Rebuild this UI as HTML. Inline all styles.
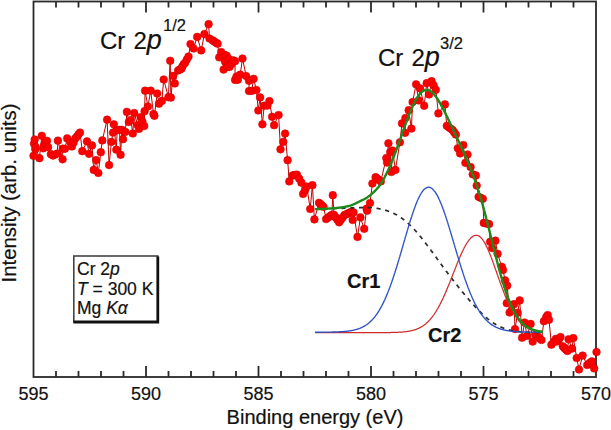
<!DOCTYPE html>
<html><head><meta charset="utf-8"><style>
html,body{margin:0;padding:0;background:#fff;width:611px;height:430px;overflow:hidden}
.c{position:relative;width:611px;height:430px;font-family:"Liberation Sans",sans-serif;color:#111}
.c svg{position:absolute;left:0;top:0}
.t{position:absolute;white-space:nowrap;line-height:1;-webkit-text-stroke:0.2px #111}
</style></head><body><div class="c">
<svg width="611" height="430" viewBox="0 0 611 430">
<path d="M56.00,1.5 V7.5 M56.00,377 V371 M78.50,1.5 V7.5 M78.50,377 V371 M101.00,1.5 V7.5 M101.00,377 V371 M123.50,1.5 V7.5 M123.50,377 V371 M146.00,1.5 V12.5 M146.00,377 V366 M168.50,1.5 V7.5 M168.50,377 V371 M191.00,1.5 V7.5 M191.00,377 V371 M213.50,1.5 V7.5 M213.50,377 V371 M236.00,1.5 V7.5 M236.00,377 V371 M258.50,1.5 V12.5 M258.50,377 V366 M281.00,1.5 V7.5 M281.00,377 V371 M303.50,1.5 V7.5 M303.50,377 V371 M326.00,1.5 V7.5 M326.00,377 V371 M348.50,1.5 V7.5 M348.50,377 V371 M371.00,1.5 V12.5 M371.00,377 V366 M393.50,1.5 V7.5 M393.50,377 V371 M416.00,1.5 V7.5 M416.00,377 V371 M438.50,1.5 V7.5 M438.50,377 V371 M461.00,1.5 V7.5 M461.00,377 V371 M483.50,1.5 V12.5 M483.50,377 V366 M506.00,1.5 V7.5 M506.00,377 V371 M528.50,1.5 V7.5 M528.50,377 V371 M551.00,1.5 V7.5 M551.00,377 V371 M573.50,1.5 V7.5 M573.50,377 V371" stroke="#2a2a2a" stroke-width="1.8" fill="none"/>
<rect x="33.5" y="1.5" width="562.5" height="375.5" fill="none" stroke="#2a2a2a" stroke-width="1.8"/>
<path d="M33.5,155.8 L34.0,143.6 L34.7,139.5 L35.3,149.2 L35.6,147.2 L39.4,158.2 L41.8,135.8 L43.3,148.3 L44.0,145.8 L45.1,143.0 L47.0,140.8 L48.1,147.1 L50.9,154.2 L53.0,155.6 L55.1,154.6 L57.3,153.5 L57.9,140.7 L62.6,159.3 L62.8,148.6 L64.9,148.8 L67.2,138.4 L70.4,142.3 L71.9,146.5 L73.6,142.4 L75.3,138.4 L76.9,136.5 L78.4,134.5 L80.0,132.6 L82.3,151.2 L87.0,141.4 L89.0,153.8 L92.0,145.4 L93.7,169.9 L96.2,160.1 L98.3,173.0 L100.8,152.2 L102.3,140.4 L107.1,119.7 L109.1,165.1 L111.4,141.9 L113.0,132.6 L113.8,124.3 L116.3,149.7 L117.2,130.2 L119.5,129.8 L120.6,154.8 L121.9,129.8 L123.0,139.2 L125.3,131.9 L126.9,111.9 L128.8,122.0 L130.9,120.0 L132.8,133.5 L134.2,113.0 L137.7,125.1 L139.0,128.9 L140.7,117.2 L142.4,121.6 L144.2,126.0 L144.6,111.2 L145.1,90.7 L147.9,106.5 L150.7,90.7 L153.5,114.0 L154.4,115.8 L157.2,93.5 L159.0,103.7 L161.9,100.9 L163.7,79.5 L168.4,97.2 L170.2,60.8 L170.9,97.6 L173.0,75.8 L174.8,83.4 L178.1,70.5 L179.7,69.6 L181.4,68.8 L182.3,66.5 L183.6,64.3 L185.1,62.8 L186.8,59.6 L188.5,56.5 L190.5,44.0 L193.6,48.5 L197.2,36.9 L201.2,50.4 L204.4,34.1 L208.6,24.2 L209.5,38.5 L212.7,40.4 L214.3,41.5 L215.9,42.6 L217.6,43.7 L219.2,57.3 L221.2,52.0 L223.6,69.6 L224.6,54.9 L224.9,61.3 L226.7,55.7 L227.4,66.7 L228.8,59.0 L229.5,66.9 L231.6,63.9 L233.2,60.3 L235.0,61.2 L235.1,79.9 L236.5,76.5 L237.8,79.8 L240.2,74.7 L242.5,58.5 L246.2,76.1 L249.0,80.8 L249.0,91.0 L251.7,90.9 L253.6,78.8 L256.4,90.0 L258.3,110.5 L260.1,97.4 L262.4,124.3 L264.2,105.7 L267.4,105.6 L269.4,101.1 L272.1,116.8 L274.1,125.2 L278.6,115.0 L280.5,149.3 L283.3,141.9 L285.1,133.5 L287.6,160.2 L289.3,181.4 L292.4,175.6 L293.9,175.2 L295.4,175.0 L296.9,174.7 L299.2,178.7 L301.4,182.7 L303.1,193.9 L305.0,190.2 L306.8,186.5 L310.2,209.0 L312.4,185.2 L314.4,219.4 L319.0,202.8 L320.5,204.1 L322.0,205.5 L323.5,206.8 L326.1,219.1 L328.0,217.6 L329.9,216.2 L331.8,214.8 L332.8,195.2 L334.0,214.9 L335.7,217.4 L337.4,219.8 L339.1,222.3 L340.8,219.9 L342.6,217.5 L344.4,215.1 L346.2,214.3 L347.9,213.5 L349.6,212.6 L351.4,211.8 L352.7,220.0 L353.5,212.4 L357.5,236.9 L360.4,217.4 L364.2,228.8 L366.6,208.7 L367.2,210.7 L370.0,203.0 L372.4,183.5 L375.6,177.2 L377.3,178.6 L379.1,180.0 L380.8,181.4 L386.3,158.0 L387.1,162.6 L388.4,143.3 L390.2,152.1 L391.3,172.0 L392.6,150.6 L395.4,169.9 L399.9,142.3 L402.0,123.4 L405.1,132.8 L405.4,118.0 L408.7,110.2 L411.4,128.6 L412.6,102.0 L416.1,84.3 L418.7,100.4 L420.1,88.4 L424.2,105.8 L426.7,83.2 L429.1,94.5 L431.6,81.2 L433.7,85.5 L435.8,89.8 L438.4,113.4 L444.9,104.4 L446.8,125.8 L448.7,127.2 L450.6,128.6 L452.6,130.0 L454.2,132.3 L455.9,134.6 L457.8,148.3 L460.1,153.4 L463.3,145.0 L465.4,162.8 L467.5,154.5 L470.6,167.0 L472.7,174.3 L475.8,175.4 L476.7,185.6 L478.6,196.8 L480.7,197.8 L482.8,198.8 L483.8,222.9 L485.6,223.3 L487.3,223.6 L489.1,224.0 L490.1,241.8 L492.2,248.1 L495.4,240.7 L497.6,253.8 L501.8,266.9 L503.0,269.9 L505.1,280.4 L506.8,303.2 L507.2,285.6 L509.6,312.5 L511.4,310.7 L514.0,304.2 L515.0,329.1 L517.7,312.8 L519.7,300.4 L522.1,337.7 L524.5,322.5 L527.2,335.9 L530.6,323.9 L532.7,341.6 L535.8,334.6 L537.7,336.4 L539.6,338.2 L541.5,340.0 L543.9,321.2 L546.3,316.9 L547.7,315.0 L549.0,319.8 L551.4,344.7 L553.6,341.8 L555.8,338.8 L557.0,341.6 L558.8,339.3 L560.5,337.0 L562.8,346.3 L564.3,347.9 L565.9,349.4 L567.4,351.0 L568.6,339.3 L572.0,348.6 L573.3,338.0 L576.7,358.0 L579.0,369.5 L582.6,355.6 L587.2,365.0 L588.8,363.8 L590.3,362.6 L591.9,361.4 L594.2,368.4 L596.5,352.0" fill="none" stroke="#c00000" stroke-width="1"/>
<g fill="#ff0000" stroke="#c80000" stroke-width="0.5"><circle cx="33.5" cy="155.8" r="3.85"/><circle cx="34.0" cy="143.6" r="3.85"/><circle cx="34.7" cy="139.5" r="3.85"/><circle cx="35.3" cy="149.2" r="3.85"/><circle cx="35.6" cy="147.2" r="3.85"/><circle cx="39.4" cy="158.2" r="3.85"/><circle cx="41.8" cy="135.8" r="3.85"/><circle cx="43.3" cy="148.3" r="3.85"/><circle cx="44.0" cy="145.8" r="3.85"/><circle cx="45.1" cy="143.0" r="3.85"/><circle cx="47.0" cy="140.8" r="3.85"/><circle cx="48.1" cy="147.1" r="3.85"/><circle cx="50.9" cy="154.2" r="3.85"/><circle cx="53.0" cy="155.6" r="3.85"/><circle cx="55.1" cy="154.6" r="3.85"/><circle cx="57.3" cy="153.5" r="3.85"/><circle cx="57.9" cy="140.7" r="3.85"/><circle cx="62.6" cy="159.3" r="3.85"/><circle cx="62.8" cy="148.6" r="3.85"/><circle cx="64.9" cy="148.8" r="3.85"/><circle cx="67.2" cy="138.4" r="3.85"/><circle cx="70.4" cy="142.3" r="3.85"/><circle cx="71.9" cy="146.5" r="3.85"/><circle cx="73.6" cy="142.4" r="3.85"/><circle cx="75.3" cy="138.4" r="3.85"/><circle cx="76.9" cy="136.5" r="3.85"/><circle cx="78.4" cy="134.5" r="3.85"/><circle cx="80.0" cy="132.6" r="3.85"/><circle cx="82.3" cy="151.2" r="3.85"/><circle cx="87.0" cy="141.4" r="3.85"/><circle cx="89.0" cy="153.8" r="3.85"/><circle cx="92.0" cy="145.4" r="3.85"/><circle cx="93.7" cy="169.9" r="3.85"/><circle cx="96.2" cy="160.1" r="3.85"/><circle cx="98.3" cy="173.0" r="3.85"/><circle cx="100.8" cy="152.2" r="3.85"/><circle cx="102.3" cy="140.4" r="3.85"/><circle cx="107.1" cy="119.7" r="3.85"/><circle cx="109.1" cy="165.1" r="3.85"/><circle cx="111.4" cy="141.9" r="3.85"/><circle cx="113.0" cy="132.6" r="3.85"/><circle cx="113.8" cy="124.3" r="3.85"/><circle cx="116.3" cy="149.7" r="3.85"/><circle cx="117.2" cy="130.2" r="3.85"/><circle cx="119.5" cy="129.8" r="3.85"/><circle cx="120.6" cy="154.8" r="3.85"/><circle cx="121.9" cy="129.8" r="3.85"/><circle cx="123.0" cy="139.2" r="3.85"/><circle cx="125.3" cy="131.9" r="3.85"/><circle cx="126.9" cy="111.9" r="3.85"/><circle cx="128.8" cy="122.0" r="3.85"/><circle cx="130.9" cy="120.0" r="3.85"/><circle cx="132.8" cy="133.5" r="3.85"/><circle cx="134.2" cy="113.0" r="3.85"/><circle cx="137.7" cy="125.1" r="3.85"/><circle cx="139.0" cy="128.9" r="3.85"/><circle cx="140.7" cy="117.2" r="3.85"/><circle cx="142.4" cy="121.6" r="3.85"/><circle cx="144.2" cy="126.0" r="3.85"/><circle cx="144.6" cy="111.2" r="3.85"/><circle cx="145.1" cy="90.7" r="3.85"/><circle cx="147.9" cy="106.5" r="3.85"/><circle cx="150.7" cy="90.7" r="3.85"/><circle cx="153.5" cy="114.0" r="3.85"/><circle cx="154.4" cy="115.8" r="3.85"/><circle cx="157.2" cy="93.5" r="3.85"/><circle cx="159.0" cy="103.7" r="3.85"/><circle cx="161.9" cy="100.9" r="3.85"/><circle cx="163.7" cy="79.5" r="3.85"/><circle cx="168.4" cy="97.2" r="3.85"/><circle cx="170.2" cy="60.8" r="3.85"/><circle cx="170.9" cy="97.6" r="3.85"/><circle cx="173.0" cy="75.8" r="3.85"/><circle cx="174.8" cy="83.4" r="3.85"/><circle cx="178.1" cy="70.5" r="3.85"/><circle cx="179.7" cy="69.6" r="3.85"/><circle cx="181.4" cy="68.8" r="3.85"/><circle cx="182.3" cy="66.5" r="3.85"/><circle cx="183.6" cy="64.3" r="3.85"/><circle cx="185.1" cy="62.8" r="3.85"/><circle cx="186.8" cy="59.6" r="3.85"/><circle cx="188.5" cy="56.5" r="3.85"/><circle cx="190.5" cy="44.0" r="3.85"/><circle cx="193.6" cy="48.5" r="3.85"/><circle cx="197.2" cy="36.9" r="3.85"/><circle cx="201.2" cy="50.4" r="3.85"/><circle cx="204.4" cy="34.1" r="3.85"/><circle cx="208.6" cy="24.2" r="3.85"/><circle cx="209.5" cy="38.5" r="3.85"/><circle cx="212.7" cy="40.4" r="3.85"/><circle cx="214.3" cy="41.5" r="3.85"/><circle cx="215.9" cy="42.6" r="3.85"/><circle cx="217.6" cy="43.7" r="3.85"/><circle cx="219.2" cy="57.3" r="3.85"/><circle cx="221.2" cy="52.0" r="3.85"/><circle cx="223.6" cy="69.6" r="3.85"/><circle cx="224.6" cy="54.9" r="3.85"/><circle cx="224.9" cy="61.3" r="3.85"/><circle cx="226.7" cy="55.7" r="3.85"/><circle cx="227.4" cy="66.7" r="3.85"/><circle cx="228.8" cy="59.0" r="3.85"/><circle cx="229.5" cy="66.9" r="3.85"/><circle cx="231.6" cy="63.9" r="3.85"/><circle cx="233.2" cy="60.3" r="3.85"/><circle cx="235.0" cy="61.2" r="3.85"/><circle cx="235.1" cy="79.9" r="3.85"/><circle cx="236.5" cy="76.5" r="3.85"/><circle cx="237.8" cy="79.8" r="3.85"/><circle cx="240.2" cy="74.7" r="3.85"/><circle cx="242.5" cy="58.5" r="3.85"/><circle cx="246.2" cy="76.1" r="3.85"/><circle cx="249.0" cy="80.8" r="3.85"/><circle cx="249.0" cy="91.0" r="3.85"/><circle cx="251.7" cy="90.9" r="3.85"/><circle cx="253.6" cy="78.8" r="3.85"/><circle cx="256.4" cy="90.0" r="3.85"/><circle cx="258.3" cy="110.5" r="3.85"/><circle cx="260.1" cy="97.4" r="3.85"/><circle cx="262.4" cy="124.3" r="3.85"/><circle cx="264.2" cy="105.7" r="3.85"/><circle cx="267.4" cy="105.6" r="3.85"/><circle cx="269.4" cy="101.1" r="3.85"/><circle cx="272.1" cy="116.8" r="3.85"/><circle cx="274.1" cy="125.2" r="3.85"/><circle cx="278.6" cy="115.0" r="3.85"/><circle cx="280.5" cy="149.3" r="3.85"/><circle cx="283.3" cy="141.9" r="3.85"/><circle cx="285.1" cy="133.5" r="3.85"/><circle cx="287.6" cy="160.2" r="3.85"/><circle cx="289.3" cy="181.4" r="3.85"/><circle cx="292.4" cy="175.6" r="3.85"/><circle cx="293.9" cy="175.2" r="3.85"/><circle cx="295.4" cy="175.0" r="3.85"/><circle cx="296.9" cy="174.7" r="3.85"/><circle cx="299.2" cy="178.7" r="3.85"/><circle cx="301.4" cy="182.7" r="3.85"/><circle cx="303.1" cy="193.9" r="3.85"/><circle cx="305.0" cy="190.2" r="3.85"/><circle cx="306.8" cy="186.5" r="3.85"/><circle cx="310.2" cy="209.0" r="3.85"/><circle cx="312.4" cy="185.2" r="3.85"/><circle cx="314.4" cy="219.4" r="3.85"/><circle cx="319.0" cy="202.8" r="3.85"/><circle cx="320.5" cy="204.1" r="3.85"/><circle cx="322.0" cy="205.5" r="3.85"/><circle cx="323.5" cy="206.8" r="3.85"/><circle cx="326.1" cy="219.1" r="3.85"/><circle cx="328.0" cy="217.6" r="3.85"/><circle cx="329.9" cy="216.2" r="3.85"/><circle cx="331.8" cy="214.8" r="3.85"/><circle cx="332.8" cy="195.2" r="3.85"/><circle cx="334.0" cy="214.9" r="3.85"/><circle cx="335.7" cy="217.4" r="3.85"/><circle cx="337.4" cy="219.8" r="3.85"/><circle cx="339.1" cy="222.3" r="3.85"/><circle cx="340.8" cy="219.9" r="3.85"/><circle cx="342.6" cy="217.5" r="3.85"/><circle cx="344.4" cy="215.1" r="3.85"/><circle cx="346.2" cy="214.3" r="3.85"/><circle cx="347.9" cy="213.5" r="3.85"/><circle cx="349.6" cy="212.6" r="3.85"/><circle cx="351.4" cy="211.8" r="3.85"/><circle cx="352.7" cy="220.0" r="3.85"/><circle cx="353.5" cy="212.4" r="3.85"/><circle cx="357.5" cy="236.9" r="3.85"/><circle cx="360.4" cy="217.4" r="3.85"/><circle cx="364.2" cy="228.8" r="3.85"/><circle cx="366.6" cy="208.7" r="3.85"/><circle cx="367.2" cy="210.7" r="3.85"/><circle cx="370.0" cy="203.0" r="3.85"/><circle cx="372.4" cy="183.5" r="3.85"/><circle cx="375.6" cy="177.2" r="3.85"/><circle cx="377.3" cy="178.6" r="3.85"/><circle cx="379.1" cy="180.0" r="3.85"/><circle cx="380.8" cy="181.4" r="3.85"/><circle cx="386.3" cy="158.0" r="3.85"/><circle cx="387.1" cy="162.6" r="3.85"/><circle cx="388.4" cy="143.3" r="3.85"/><circle cx="390.2" cy="152.1" r="3.85"/><circle cx="391.3" cy="172.0" r="3.85"/><circle cx="392.6" cy="150.6" r="3.85"/><circle cx="395.4" cy="169.9" r="3.85"/><circle cx="399.9" cy="142.3" r="3.85"/><circle cx="402.0" cy="123.4" r="3.85"/><circle cx="405.1" cy="132.8" r="3.85"/><circle cx="405.4" cy="118.0" r="3.85"/><circle cx="408.7" cy="110.2" r="3.85"/><circle cx="411.4" cy="128.6" r="3.85"/><circle cx="412.6" cy="102.0" r="3.85"/><circle cx="416.1" cy="84.3" r="3.85"/><circle cx="418.7" cy="100.4" r="3.85"/><circle cx="420.1" cy="88.4" r="3.85"/><circle cx="424.2" cy="105.8" r="3.85"/><circle cx="426.7" cy="83.2" r="3.85"/><circle cx="429.1" cy="94.5" r="3.85"/><circle cx="431.6" cy="81.2" r="3.85"/><circle cx="433.7" cy="85.5" r="3.85"/><circle cx="435.8" cy="89.8" r="3.85"/><circle cx="438.4" cy="113.4" r="3.85"/><circle cx="444.9" cy="104.4" r="3.85"/><circle cx="446.8" cy="125.8" r="3.85"/><circle cx="448.7" cy="127.2" r="3.85"/><circle cx="450.6" cy="128.6" r="3.85"/><circle cx="452.6" cy="130.0" r="3.85"/><circle cx="454.2" cy="132.3" r="3.85"/><circle cx="455.9" cy="134.6" r="3.85"/><circle cx="457.8" cy="148.3" r="3.85"/><circle cx="460.1" cy="153.4" r="3.85"/><circle cx="463.3" cy="145.0" r="3.85"/><circle cx="465.4" cy="162.8" r="3.85"/><circle cx="467.5" cy="154.5" r="3.85"/><circle cx="470.6" cy="167.0" r="3.85"/><circle cx="472.7" cy="174.3" r="3.85"/><circle cx="475.8" cy="175.4" r="3.85"/><circle cx="476.7" cy="185.6" r="3.85"/><circle cx="478.6" cy="196.8" r="3.85"/><circle cx="480.7" cy="197.8" r="3.85"/><circle cx="482.8" cy="198.8" r="3.85"/><circle cx="483.8" cy="222.9" r="3.85"/><circle cx="485.6" cy="223.3" r="3.85"/><circle cx="487.3" cy="223.6" r="3.85"/><circle cx="489.1" cy="224.0" r="3.85"/><circle cx="490.1" cy="241.8" r="3.85"/><circle cx="492.2" cy="248.1" r="3.85"/><circle cx="495.4" cy="240.7" r="3.85"/><circle cx="497.6" cy="253.8" r="3.85"/><circle cx="501.8" cy="266.9" r="3.85"/><circle cx="503.0" cy="269.9" r="3.85"/><circle cx="505.1" cy="280.4" r="3.85"/><circle cx="506.8" cy="303.2" r="3.85"/><circle cx="507.2" cy="285.6" r="3.85"/><circle cx="509.6" cy="312.5" r="3.85"/><circle cx="511.4" cy="310.7" r="3.85"/><circle cx="514.0" cy="304.2" r="3.85"/><circle cx="515.0" cy="329.1" r="3.85"/><circle cx="517.7" cy="312.8" r="3.85"/><circle cx="519.7" cy="300.4" r="3.85"/><circle cx="522.1" cy="337.7" r="3.85"/><circle cx="524.5" cy="322.5" r="3.85"/><circle cx="527.2" cy="335.9" r="3.85"/><circle cx="530.6" cy="323.9" r="3.85"/><circle cx="532.7" cy="341.6" r="3.85"/><circle cx="535.8" cy="334.6" r="3.85"/><circle cx="537.7" cy="336.4" r="3.85"/><circle cx="539.6" cy="338.2" r="3.85"/><circle cx="541.5" cy="340.0" r="3.85"/><circle cx="543.9" cy="321.2" r="3.85"/><circle cx="546.3" cy="316.9" r="3.85"/><circle cx="547.7" cy="315.0" r="3.85"/><circle cx="549.0" cy="319.8" r="3.85"/><circle cx="551.4" cy="344.7" r="3.85"/><circle cx="553.6" cy="341.8" r="3.85"/><circle cx="555.8" cy="338.8" r="3.85"/><circle cx="557.0" cy="341.6" r="3.85"/><circle cx="558.8" cy="339.3" r="3.85"/><circle cx="560.5" cy="337.0" r="3.85"/><circle cx="562.8" cy="346.3" r="3.85"/><circle cx="564.3" cy="347.9" r="3.85"/><circle cx="565.9" cy="349.4" r="3.85"/><circle cx="567.4" cy="351.0" r="3.85"/><circle cx="568.6" cy="339.3" r="3.85"/><circle cx="572.0" cy="348.6" r="3.85"/><circle cx="573.3" cy="338.0" r="3.85"/><circle cx="576.7" cy="358.0" r="3.85"/><circle cx="579.0" cy="369.5" r="3.85"/><circle cx="582.6" cy="355.6" r="3.85"/><circle cx="587.2" cy="365.0" r="3.85"/><circle cx="588.8" cy="363.8" r="3.85"/><circle cx="590.3" cy="362.6" r="3.85"/><circle cx="591.9" cy="361.4" r="3.85"/><circle cx="594.2" cy="368.4" r="3.85"/><circle cx="596.5" cy="352.0" r="3.85"/></g>
<path d="M315.0,209.06 L315.2,209.05 L315.5,209.05 L315.8,209.04 L316.0,209.04 L316.2,209.03 L316.5,209.03 L316.8,209.02 L317.0,209.02 L317.2,209.01 L317.5,209.01 L317.8,209.00 L318.0,208.99 L318.2,208.99 L318.5,208.98 L318.8,208.98 L319.0,208.97 L319.2,208.96 L319.5,208.96 L319.8,208.95 L320.0,208.95 L320.2,208.94 L320.5,208.93 L320.8,208.93 L321.0,208.92 L321.2,208.92 L321.5,208.91 L321.8,208.90 L322.0,208.90 L322.2,208.89 L322.5,208.88 L322.8,208.88 L323.0,208.87 L323.2,208.86 L323.5,208.86 L323.8,208.85 L324.0,208.84 L324.2,208.84 L324.5,208.83 L324.8,208.82 L325.0,208.82 L325.2,208.81 L325.5,208.80 L325.8,208.80 L326.0,208.79 L326.2,208.78 L326.5,208.78 L326.8,208.77 L327.0,208.76 L327.2,208.76 L327.5,208.75 L327.8,208.74 L328.0,208.73 L328.2,208.73 L328.5,208.72 L328.8,208.71 L329.0,208.71 L329.2,208.70 L329.5,208.69 L329.8,208.68 L330.0,208.68 L330.2,208.67 L330.5,208.66 L330.8,208.65 L331.0,208.65 L331.2,208.64 L331.5,208.63 L331.8,208.62 L332.0,208.62 L332.2,208.61 L332.5,208.60 L332.8,208.59 L333.0,208.59 L333.2,208.58 L333.5,208.57 L333.8,208.56 L334.0,208.56 L334.2,208.55 L334.5,208.54 L334.8,208.53 L335.0,208.52 L335.2,208.52 L335.5,208.51 L335.8,208.50 L336.0,208.49 L336.2,208.49 L336.5,208.48 L336.8,208.47 L337.0,208.46 L337.2,208.45 L337.5,208.45 L337.8,208.44 L338.0,208.43 L338.2,208.42 L338.5,208.41 L338.8,208.41 L339.0,208.40 L339.2,208.39 L339.5,208.38 L339.8,208.37 L340.0,208.37 L340.2,208.36 L340.5,208.35 L340.8,208.34 L341.0,208.33 L341.2,208.33 L341.5,208.32 L341.8,208.31 L342.0,208.30 L342.2,208.30 L342.5,208.29 L342.8,208.28 L343.0,208.27 L343.2,208.26 L343.5,208.26 L343.8,208.25 L344.0,208.24 L344.2,208.23 L344.5,208.23 L344.8,208.22 L345.0,208.21 L345.2,208.20 L345.5,208.19 L345.8,208.19 L346.0,208.18 L346.2,208.17 L346.5,208.16 L346.8,208.15 L347.0,208.14 L347.2,208.13 L347.5,208.12 L347.8,208.11 L348.0,208.10 L348.2,208.09 L348.5,208.08 L348.8,208.07 L349.0,208.06 L349.2,208.05 L349.5,208.04 L349.8,208.03 L350.0,208.01 L350.2,208.00 L350.5,207.99 L350.8,207.98 L351.0,207.97 L351.2,207.96 L351.5,207.94 L351.8,207.93 L352.0,207.92 L352.2,207.91 L352.5,207.90 L352.8,207.88 L353.0,207.87 L353.2,207.86 L353.5,207.85 L353.8,207.84 L354.0,207.83 L354.2,207.81 L354.5,207.80 L354.8,207.79 L355.0,207.78 L355.2,207.77 L355.5,207.76 L355.8,207.74 L356.0,207.73 L356.2,207.72 L356.5,207.71 L356.8,207.70 L357.0,207.69 L357.2,207.68 L357.5,207.67 L357.8,207.66 L358.0,207.65 L358.2,207.64 L358.5,207.63 L358.8,207.62 L359.0,207.61 L359.2,207.60 L359.5,207.59 L359.8,207.58 L360.0,207.58 L360.2,207.57 L360.5,207.56 L360.8,207.55 L361.0,207.55 L361.2,207.54 L361.5,207.53 L361.8,207.53 L362.0,207.52 L362.2,207.52 L362.5,207.51 L362.8,207.51 L363.0,207.50 L363.2,207.50 L363.5,207.50 L363.8,207.50 L364.0,207.49 L364.2,207.49 L364.5,207.49 L364.8,207.49 L365.0,207.49 L365.2,207.49 L365.5,207.49 L365.8,207.49 L366.0,207.49 L366.2,207.50 L366.5,207.50 L366.8,207.50 L367.0,207.51 L367.2,207.51 L367.5,207.52 L367.8,207.53 L368.0,207.53 L368.2,207.54 L368.5,207.55 L368.8,207.56 L369.0,207.57 L369.2,207.58 L369.5,207.59 L369.8,207.60 L370.0,207.62 L370.2,207.63 L370.5,207.65 L370.8,207.66 L371.0,207.68 L371.2,207.70 L371.5,207.71 L371.8,207.73 L372.0,207.75 L372.2,207.78 L372.5,207.80 L372.8,207.82 L373.0,207.84 L373.2,207.87 L373.5,207.90 L373.8,207.92 L374.0,207.95 L374.2,207.98 L374.5,208.01 L374.8,208.04 L375.0,208.07 L375.2,208.11 L375.5,208.14 L375.8,208.18 L376.0,208.22 L376.2,208.25 L376.5,208.29 L376.8,208.33 L377.0,208.37 L377.2,208.41 L377.5,208.45 L377.8,208.49 L378.0,208.54 L378.2,208.58 L378.5,208.62 L378.8,208.67 L379.0,208.71 L379.2,208.76 L379.5,208.81 L379.8,208.86 L380.0,208.91 L380.2,208.96 L380.5,209.01 L380.8,209.06 L381.0,209.11 L381.2,209.17 L381.5,209.22 L381.8,209.28 L382.0,209.34 L382.2,209.40 L382.5,209.46 L382.8,209.52 L383.0,209.58 L383.2,209.64 L383.5,209.70 L383.8,209.77 L384.0,209.83 L384.2,209.90 L384.5,209.97 L384.8,210.04 L385.0,210.11 L385.2,210.18 L385.5,210.25 L385.8,210.33 L386.0,210.40 L386.2,210.48 L386.5,210.56 L386.8,210.64 L387.0,210.72 L387.2,210.80 L387.5,210.88 L387.8,210.97 L388.0,211.05 L388.2,211.14 L388.5,211.23 L388.8,211.32 L389.0,211.41 L389.2,211.50 L389.5,211.59 L389.8,211.69 L390.0,211.79 L390.2,211.89 L390.5,211.98 L390.8,212.09 L391.0,212.19 L391.2,212.29 L391.5,212.40 L391.8,212.51 L392.0,212.61 L392.2,212.72 L392.5,212.84 L392.8,212.95 L393.0,213.07 L393.2,213.18 L393.5,213.30 L393.8,213.42 L394.0,213.54 L394.2,213.66 L394.5,213.79 L394.8,213.92 L395.0,214.04 L395.2,214.17 L395.5,214.31 L395.8,214.44 L396.0,214.57 L396.2,214.71 L396.5,214.85 L396.8,214.99 L397.0,215.13 L397.2,215.28 L397.5,215.42 L397.8,215.57 L398.0,215.72 L398.2,215.87 L398.5,216.02 L398.8,216.18 L399.0,216.33 L399.2,216.49 L399.5,216.65 L399.8,216.81 L400.0,216.98 L400.2,217.14 L400.5,217.31 L400.8,217.48 L401.0,217.65 L401.2,217.82 L401.5,218.00 L401.8,218.17 L402.0,218.35 L402.2,218.53 L402.5,218.71 L402.8,218.90 L403.0,219.09 L403.2,219.27 L403.5,219.46 L403.8,219.66 L404.0,219.85 L404.2,220.05 L404.5,220.24 L404.8,220.44 L405.0,220.64 L405.2,220.85 L405.5,221.05 L405.8,221.26 L406.0,221.47 L406.2,221.68 L406.5,221.89 L406.8,222.11 L407.0,222.32 L407.2,222.54 L407.5,222.76 L407.8,222.99 L408.0,223.21 L408.2,223.44 L408.5,223.67 L408.8,223.90 L409.0,224.13 L409.2,224.36 L409.5,224.60 L409.8,224.83 L410.0,225.07 L410.2,225.31 L410.5,225.56 L410.8,225.80 L411.0,226.05 L411.2,226.30 L411.5,226.55 L411.8,226.80 L412.0,227.05 L412.2,227.31 L412.5,227.57 L412.8,227.82 L413.0,228.09 L413.2,228.35 L413.5,228.61 L413.8,228.88 L414.0,229.15 L414.2,229.41 L414.5,229.69 L414.8,229.96 L415.0,230.23 L415.2,230.51 L415.5,230.79 L415.8,231.06 L416.0,231.35 L416.2,231.63 L416.5,231.91 L416.8,232.20 L417.0,232.48 L417.2,232.77 L417.5,233.06 L417.8,233.35 L418.0,233.64 L418.2,233.94 L418.5,234.23 L418.8,234.53 L419.0,234.83 L419.2,235.13 L419.5,235.43 L419.8,235.73 L420.0,236.04 L420.2,236.34 L420.5,236.65 L420.8,236.95 L421.0,237.26 L421.2,237.57 L421.5,237.88 L421.8,238.20 L422.0,238.51 L422.2,238.82 L422.5,239.14 L422.8,239.46 L423.0,239.77 L423.2,240.09 L423.5,240.41 L423.8,240.73 L424.0,241.05 L424.2,241.38 L424.5,241.70 L424.8,242.03 L425.0,242.35 L425.2,242.68 L425.5,243.00 L425.8,243.33 L426.0,243.66 L426.2,243.99 L426.5,244.32 L426.8,244.65 L427.0,244.98 L427.2,245.32 L427.5,245.65 L427.8,245.98 L428.0,246.32 L428.2,246.65 L428.5,246.99 L428.8,247.32 L429.0,247.66 L429.2,248.00 L429.5,248.34 L429.8,248.67 L430.0,249.01 L430.2,249.35 L430.5,249.69 L430.8,250.03 L431.0,250.37 L431.2,250.71 L431.5,251.05 L431.8,251.39 L432.0,251.73 L432.2,252.08 L432.5,252.42 L432.8,252.76 L433.0,253.10 L433.2,253.45 L433.5,253.79 L433.8,254.13 L434.0,254.48 L434.2,254.82 L434.5,255.16 L434.8,255.51 L435.0,255.85 L435.2,256.19 L435.5,256.54 L435.8,256.88 L436.0,257.22 L436.2,257.57 L436.5,257.91 L436.8,258.26 L437.0,258.60 L437.2,258.94 L437.5,259.29 L437.8,259.63 L438.0,259.98 L438.2,260.32 L438.5,260.66 L438.8,261.01 L439.0,261.35 L439.2,261.69 L439.5,262.03 L439.8,262.38 L440.0,262.72 L440.2,263.06 L440.5,263.40 L440.8,263.75 L441.0,264.09 L441.2,264.43 L441.5,264.77 L441.8,265.11 L442.0,265.45 L442.2,265.79 L442.5,266.13 L442.8,266.47 L443.0,266.81 L443.2,267.15 L443.5,267.49 L443.8,267.83 L444.0,268.17 L444.2,268.50 L444.5,268.84 L444.8,269.18 L445.0,269.52 L445.2,269.85 L445.5,270.19 L445.8,270.52 L446.0,270.86 L446.2,271.19 L446.5,271.53 L446.8,271.86 L447.0,272.20 L447.2,272.53 L447.5,272.86 L447.8,273.20 L448.0,273.53 L448.2,273.86 L448.5,274.19 L448.8,274.52 L449.0,274.85 L449.2,275.18 L449.5,275.51 L449.8,275.84 L450.0,276.17 L450.2,276.50 L450.5,276.83 L450.8,277.16 L451.0,277.48 L451.2,277.81 L451.5,278.14 L451.8,278.46 L452.0,278.79 L452.2,279.11 L452.5,279.44 L452.8,279.76 L453.0,280.08 L453.2,280.41 L453.5,280.73 L453.8,281.05 L454.0,281.37 L454.2,281.69 L454.5,282.02 L454.8,282.34 L455.0,282.66 L455.2,282.98 L455.5,283.29 L455.8,283.61 L456.0,283.93 L456.2,284.25 L456.5,284.57 L456.8,284.88 L457.0,285.20 L457.2,285.52 L457.5,285.83 L457.8,286.15 L458.0,286.46 L458.2,286.77 L458.5,287.09 L458.8,287.40 L459.0,287.71 L459.2,288.03 L459.5,288.34 L459.8,288.65 L460.0,288.96 L460.2,289.27 L460.5,289.58 L460.8,289.89 L461.0,290.20 L461.2,290.50 L461.5,290.81 L461.8,291.12 L462.0,291.43 L462.2,291.73 L462.5,292.04 L462.8,292.34 L463.0,292.65 L463.2,292.95 L463.5,293.25 L463.8,293.56 L464.0,293.86 L464.2,294.16 L464.5,294.46 L464.8,294.76 L465.0,295.06 L465.2,295.36 L465.5,295.66 L465.8,295.96 L466.0,296.26 L466.2,296.56 L466.5,296.85 L466.8,297.15 L467.0,297.45 L467.2,297.74 L467.5,298.03 L467.8,298.33 L468.0,298.62 L468.2,298.91 L468.5,299.21 L468.8,299.50 L469.0,299.79 L469.2,300.08 L469.5,300.37 L469.8,300.65 L470.0,300.94 L470.2,301.23 L470.5,301.52 L470.8,301.80 L471.0,302.09 L471.2,302.37 L471.5,302.65 L471.8,302.94 L472.0,303.22 L472.2,303.50 L472.5,303.78 L472.8,304.06 L473.0,304.34 L473.2,304.61 L473.5,304.89 L473.8,305.17 L474.0,305.44 L474.2,305.72 L474.5,305.99 L474.8,306.26 L475.0,306.53 L475.2,306.80 L475.5,307.07 L475.8,307.34 L476.0,307.61 L476.2,307.88 L476.5,308.14 L476.8,308.41 L477.0,308.67 L477.2,308.93 L477.5,309.20 L477.8,309.46 L478.0,309.72 L478.2,309.97 L478.5,310.23 L478.8,310.49 L479.0,310.74 L479.2,311.00 L479.5,311.25 L479.8,311.50 L480.0,311.75 L480.2,312.00 L480.5,312.25 L480.8,312.50 L481.0,312.74 L481.2,312.98 L481.5,313.23 L481.8,313.47 L482.0,313.71 L482.2,313.95 L482.5,314.18 L482.8,314.42 L483.0,314.65 L483.2,314.89 L483.5,315.12 L483.8,315.35 L484.0,315.58 L484.2,315.80 L484.5,316.03 L484.8,316.25 L485.0,316.48 L485.2,316.70 L485.5,316.92 L485.8,317.13 L486.0,317.35 L486.2,317.56 L486.5,317.78 L486.8,317.99 L487.0,318.20 L487.2,318.41 L487.5,318.61 L487.8,318.82 L488.0,319.02 L488.2,319.22 L488.5,319.42 L488.8,319.62 L489.0,319.82 L489.2,320.01 L489.5,320.20 L489.8,320.39 L490.0,320.58 L490.2,320.77 L490.5,320.96 L490.8,321.14 L491.0,321.32 L491.2,321.50 L491.5,321.68 L491.8,321.86 L492.0,322.03 L492.2,322.21 L492.5,322.38 L492.8,322.55 L493.0,322.71 L493.2,322.88 L493.5,323.04 L493.8,323.21 L494.0,323.37 L494.2,323.53 L494.5,323.68 L494.8,323.84 L495.0,323.99 L495.2,324.14 L495.5,324.29 L495.8,324.44 L496.0,324.59 L496.2,324.73 L496.5,324.88 L496.8,325.02 L497.0,325.16 L497.2,325.29 L497.5,325.43 L497.8,325.56 L498.0,325.69 L498.2,325.82 L498.5,325.95 L498.8,326.08 L499.0,326.21 L499.2,326.33 L499.5,326.45 L499.8,326.57 L500.0,326.69 L500.2,326.81 L500.5,326.92 L500.8,327.03 L501.0,327.15 L501.2,327.26 L501.5,327.36 L501.8,327.47 L502.0,327.58 L502.2,327.68 L502.5,327.78 L502.8,327.88 L503.0,327.98 L503.2,328.08 L503.5,328.17 L503.8,328.27 L504.0,328.36 L504.2,328.45 L504.5,328.54 L504.8,328.63 L505.0,328.71 L505.2,328.80 L505.5,328.88 L505.8,328.97 L506.0,329.05 L506.2,329.13 L506.5,329.20 L506.8,329.28 L507.0,329.36 L507.2,329.43 L507.5,329.50 L507.8,329.57 L508.0,329.64 L508.2,329.71 L508.5,329.78 L508.8,329.85 L509.0,329.91 L509.2,329.98 L509.5,330.04 L509.8,330.10 L510.0,330.16 L510.2,330.22 L510.5,330.28 L510.8,330.33 L511.0,330.39 L511.2,330.44 L511.5,330.50 L511.8,330.55 L512.0,330.60 L512.2,330.65 L512.5,330.70 L512.8,330.75 L513.0,330.79 L513.2,330.84 L513.5,330.88 L513.8,330.93 L514.0,330.97 L514.2,331.01 L514.5,331.06 L514.8,331.10 L515.0,331.14 L515.2,331.17 L515.5,331.21 L515.8,331.25 L516.0,331.29 L516.2,331.32 L516.5,331.36 L516.8,331.39 L517.0,331.42 L517.2,331.45 L517.5,331.49 L517.8,331.52 L518.0,331.55 L518.2,331.58 L518.5,331.60 L518.8,331.63 L519.0,331.66 L519.2,331.69 L519.5,331.71 L519.8,331.74 L520.0,331.76 L520.2,331.79 L520.5,331.81 L520.8,331.83 L521.0,331.86 L521.2,331.88 L521.5,331.90 L521.8,331.92 L522.0,331.94 L522.2,331.96 L522.5,331.98 L522.8,332.00 L523.0,332.02 L523.2,332.03 L523.5,332.05 L523.8,332.07 L524.0,332.08 L524.2,332.10 L524.5,332.12 L524.8,332.13 L525.0,332.15 L525.2,332.16 L525.5,332.17 L525.8,332.19 L526.0,332.20 L526.2,332.21 L526.5,332.23 L526.8,332.24 L527.0,332.25 L527.2,332.26 L527.5,332.27 L527.8,332.29 L528.0,332.30 L528.2,332.31 L528.5,332.32 L528.8,332.33 L529.0,332.34 L529.2,332.34 L529.5,332.35 L529.8,332.36 L530.0,332.37 L530.2,332.38 L530.5,332.39 L530.8,332.40 L531.0,332.40 L531.2,332.41 L531.5,332.42 L531.8,332.42 L532.0,332.43 L532.2,332.44 L532.5,332.44 L532.8,332.45 L533.0,332.46 L533.2,332.46 L533.5,332.47 L533.8,332.47 L534.0,332.48 L534.2,332.48 L534.5,332.49 L534.8,332.49 L535.0,332.50 L535.2,332.50 L535.5,332.51 L535.8,332.51 L536.0,332.52 L536.2,332.52 L536.5,332.52 L536.8,332.53 L537.0,332.53 L537.2,332.54 L537.5,332.54 L537.8,332.54 L538.0,332.55 L538.2,332.55 L538.5,332.55 L538.8,332.56 L539.0,332.56 L539.2,332.56 L539.5,332.57 L539.8,332.57 L540.0,332.57 L540.2,332.57 L540.5,332.58 L540.8,332.58 L541.0,332.58 L541.2,332.58 L541.5,332.59 L541.8,332.59 L542.0,332.59 L542.2,332.59 L542.5,332.59 L542.8,332.60 L543.0,332.60" fill="none" stroke="#2a2a2a" stroke-width="1.7" stroke-dasharray="4.2 4.6"/>
<path d="M315.0,332.60 L315.2,332.60 L315.5,332.60 L315.8,332.60 L316.0,332.60 L316.2,332.60 L316.5,332.60 L316.8,332.60 L317.0,332.60 L317.2,332.60 L317.5,332.60 L317.8,332.60 L318.0,332.60 L318.2,332.60 L318.5,332.60 L318.8,332.60 L319.0,332.60 L319.2,332.60 L319.5,332.60 L319.8,332.60 L320.0,332.60 L320.2,332.60 L320.5,332.60 L320.8,332.60 L321.0,332.60 L321.2,332.60 L321.5,332.60 L321.8,332.60 L322.0,332.60 L322.2,332.60 L322.5,332.60 L322.8,332.60 L323.0,332.60 L323.2,332.60 L323.5,332.60 L323.8,332.60 L324.0,332.60 L324.2,332.60 L324.5,332.60 L324.8,332.60 L325.0,332.60 L325.2,332.60 L325.5,332.60 L325.8,332.60 L326.0,332.60 L326.2,332.60 L326.5,332.60 L326.8,332.60 L327.0,332.60 L327.2,332.60 L327.5,332.60 L327.8,332.60 L328.0,332.60 L328.2,332.60 L328.5,332.60 L328.8,332.60 L329.0,332.60 L329.2,332.60 L329.5,332.60 L329.8,332.60 L330.0,332.60 L330.2,332.60 L330.5,332.60 L330.8,332.60 L331.0,332.60 L331.2,332.60 L331.5,332.60 L331.8,332.60 L332.0,332.60 L332.2,332.60 L332.5,332.60 L332.8,332.60 L333.0,332.60 L333.2,332.60 L333.5,332.60 L333.8,332.60 L334.0,332.60 L334.2,332.60 L334.5,332.60 L334.8,332.60 L335.0,332.60 L335.2,332.60 L335.5,332.60 L335.8,332.60 L336.0,332.60 L336.2,332.60 L336.5,332.60 L336.8,332.60 L337.0,332.60 L337.2,332.60 L337.5,332.60 L337.8,332.60 L338.0,332.60 L338.2,332.60 L338.5,332.60 L338.8,332.60 L339.0,332.60 L339.2,332.60 L339.5,332.60 L339.8,332.60 L340.0,332.60 L340.2,332.60 L340.5,332.60 L340.8,332.60 L341.0,332.60 L341.2,332.60 L341.5,332.60 L341.8,332.60 L342.0,332.60 L342.2,332.60 L342.5,332.60 L342.8,332.60 L343.0,332.60 L343.2,332.60 L343.5,332.60 L343.8,332.60 L344.0,332.60 L344.2,332.60 L344.5,332.60 L344.8,332.60 L345.0,332.60 L345.2,332.60 L345.5,332.60 L345.8,332.60 L346.0,332.60 L346.2,332.60 L346.5,332.60 L346.8,332.60 L347.0,332.60 L347.2,332.60 L347.5,332.60 L347.8,332.60 L348.0,332.60 L348.2,332.60 L348.5,332.60 L348.8,332.60 L349.0,332.60 L349.2,332.60 L349.5,332.60 L349.8,332.60 L350.0,332.60 L350.2,332.60 L350.5,332.60 L350.8,332.60 L351.0,332.60 L351.2,332.60 L351.5,332.60 L351.8,332.60 L352.0,332.60 L352.2,332.60 L352.5,332.60 L352.8,332.60 L353.0,332.60 L353.2,332.60 L353.5,332.60 L353.8,332.60 L354.0,332.60 L354.2,332.60 L354.5,332.60 L354.8,332.60 L355.0,332.60 L355.2,332.60 L355.5,332.60 L355.8,332.60 L356.0,332.60 L356.2,332.60 L356.5,332.60 L356.8,332.60 L357.0,332.60 L357.2,332.60 L357.5,332.60 L357.8,332.60 L358.0,332.60 L358.2,332.60 L358.5,332.60 L358.8,332.60 L359.0,332.60 L359.2,332.60 L359.5,332.60 L359.8,332.60 L360.0,332.60 L360.2,332.60 L360.5,332.60 L360.8,332.60 L361.0,332.60 L361.2,332.60 L361.5,332.60 L361.8,332.60 L362.0,332.60 L362.2,332.60 L362.5,332.60 L362.8,332.60 L363.0,332.60 L363.2,332.60 L363.5,332.60 L363.8,332.60 L364.0,332.60 L364.2,332.60 L364.5,332.60 L364.8,332.60 L365.0,332.60 L365.2,332.60 L365.5,332.60 L365.8,332.60 L366.0,332.60 L366.2,332.60 L366.5,332.60 L366.8,332.60 L367.0,332.60 L367.2,332.60 L367.5,332.60 L367.8,332.60 L368.0,332.60 L368.2,332.60 L368.5,332.60 L368.8,332.60 L369.0,332.60 L369.2,332.60 L369.5,332.60 L369.8,332.60 L370.0,332.60 L370.2,332.60 L370.5,332.60 L370.8,332.60 L371.0,332.60 L371.2,332.60 L371.5,332.60 L371.8,332.60 L372.0,332.60 L372.2,332.60 L372.5,332.60 L372.8,332.60 L373.0,332.60 L373.2,332.60 L373.5,332.60 L373.8,332.59 L374.0,332.59 L374.2,332.59 L374.5,332.59 L374.8,332.59 L375.0,332.59 L375.2,332.59 L375.5,332.59 L375.8,332.59 L376.0,332.59 L376.2,332.59 L376.5,332.59 L376.8,332.59 L377.0,332.59 L377.2,332.59 L377.5,332.59 L377.8,332.59 L378.0,332.59 L378.2,332.59 L378.5,332.59 L378.8,332.59 L379.0,332.59 L379.2,332.59 L379.5,332.59 L379.8,332.58 L380.0,332.58 L380.2,332.58 L380.5,332.58 L380.8,332.58 L381.0,332.58 L381.2,332.58 L381.5,332.58 L381.8,332.58 L382.0,332.58 L382.2,332.58 L382.5,332.57 L382.8,332.57 L383.0,332.57 L383.2,332.57 L383.5,332.57 L383.8,332.57 L384.0,332.57 L384.2,332.57 L384.5,332.56 L384.8,332.56 L385.0,332.56 L385.2,332.56 L385.5,332.56 L385.8,332.56 L386.0,332.55 L386.2,332.55 L386.5,332.55 L386.8,332.55 L387.0,332.55 L387.2,332.54 L387.5,332.54 L387.8,332.54 L388.0,332.54 L388.2,332.53 L388.5,332.53 L388.8,332.53 L389.0,332.52 L389.2,332.52 L389.5,332.52 L389.8,332.51 L390.0,332.51 L390.2,332.51 L390.5,332.50 L390.8,332.50 L391.0,332.49 L391.2,332.49 L391.5,332.49 L391.8,332.48 L392.0,332.48 L392.2,332.47 L392.5,332.47 L392.8,332.46 L393.0,332.45 L393.2,332.45 L393.5,332.44 L393.8,332.44 L394.0,332.43 L394.2,332.42 L394.5,332.42 L394.8,332.41 L395.0,332.40 L395.2,332.39 L395.5,332.39 L395.8,332.38 L396.0,332.37 L396.2,332.36 L396.5,332.35 L396.8,332.34 L397.0,332.33 L397.2,332.32 L397.5,332.31 L397.8,332.30 L398.0,332.29 L398.2,332.28 L398.5,332.27 L398.8,332.25 L399.0,332.24 L399.2,332.23 L399.5,332.22 L399.8,332.20 L400.0,332.19 L400.2,332.17 L400.5,332.16 L400.8,332.14 L401.0,332.12 L401.2,332.11 L401.5,332.09 L401.8,332.07 L402.0,332.05 L402.2,332.03 L402.5,332.01 L402.8,331.99 L403.0,331.97 L403.2,331.95 L403.5,331.93 L403.8,331.90 L404.0,331.88 L404.2,331.85 L404.5,331.83 L404.8,331.80 L405.0,331.77 L405.2,331.75 L405.5,331.72 L405.8,331.69 L406.0,331.66 L406.2,331.63 L406.5,331.59 L406.8,331.56 L407.0,331.52 L407.2,331.49 L407.5,331.45 L407.8,331.42 L408.0,331.38 L408.2,331.34 L408.5,331.30 L408.8,331.25 L409.0,331.21 L409.2,331.17 L409.5,331.12 L409.8,331.07 L410.0,331.03 L410.2,330.98 L410.5,330.93 L410.8,330.87 L411.0,330.82 L411.2,330.76 L411.5,330.71 L411.8,330.65 L412.0,330.59 L412.2,330.53 L412.5,330.46 L412.8,330.40 L413.0,330.33 L413.2,330.27 L413.5,330.20 L413.8,330.12 L414.0,330.05 L414.2,329.97 L414.5,329.90 L414.8,329.82 L415.0,329.74 L415.2,329.65 L415.5,329.57 L415.8,329.48 L416.0,329.39 L416.2,329.30 L416.5,329.21 L416.8,329.11 L417.0,329.01 L417.2,328.91 L417.5,328.81 L417.8,328.70 L418.0,328.59 L418.2,328.48 L418.5,328.37 L418.8,328.25 L419.0,328.13 L419.2,328.01 L419.5,327.89 L419.8,327.76 L420.0,327.63 L420.2,327.50 L420.5,327.36 L420.8,327.22 L421.0,327.08 L421.2,326.94 L421.5,326.79 L421.8,326.64 L422.0,326.49 L422.2,326.33 L422.5,326.17 L422.8,326.00 L423.0,325.84 L423.2,325.67 L423.5,325.49 L423.8,325.31 L424.0,325.13 L424.2,324.95 L424.5,324.76 L424.8,324.57 L425.0,324.37 L425.2,324.17 L425.5,323.97 L425.8,323.76 L426.0,323.55 L426.2,323.33 L426.5,323.11 L426.8,322.89 L427.0,322.66 L427.2,322.43 L427.5,322.19 L427.8,321.95 L428.0,321.71 L428.2,321.46 L428.5,321.21 L428.8,320.95 L429.0,320.69 L429.2,320.42 L429.5,320.15 L429.8,319.87 L430.0,319.59 L430.2,319.31 L430.5,319.02 L430.8,318.73 L431.0,318.43 L431.2,318.12 L431.5,317.82 L431.8,317.50 L432.0,317.19 L432.2,316.86 L432.5,316.54 L432.8,316.20 L433.0,315.87 L433.2,315.52 L433.5,315.18 L433.8,314.82 L434.0,314.47 L434.2,314.10 L434.5,313.74 L434.8,313.36 L435.0,312.99 L435.2,312.61 L435.5,312.22 L435.8,311.82 L436.0,311.43 L436.2,311.02 L436.5,310.62 L436.8,310.20 L437.0,309.79 L437.2,309.36 L437.5,308.93 L437.8,308.50 L438.0,308.06 L438.2,307.62 L438.5,307.17 L438.8,306.72 L439.0,306.26 L439.2,305.80 L439.5,305.33 L439.8,304.86 L440.0,304.38 L440.2,303.89 L440.5,303.41 L440.8,302.91 L441.0,302.42 L441.2,301.91 L441.5,301.41 L441.8,300.90 L442.0,300.38 L442.2,299.86 L442.5,299.33 L442.8,298.80 L443.0,298.27 L443.2,297.73 L443.5,297.19 L443.8,296.64 L444.0,296.09 L444.2,295.54 L444.5,294.98 L444.8,294.41 L445.0,293.85 L445.2,293.27 L445.5,292.70 L445.8,292.12 L446.0,291.54 L446.2,290.95 L446.5,290.36 L446.8,289.77 L447.0,289.18 L447.2,288.58 L447.5,287.98 L447.8,287.37 L448.0,286.77 L448.2,286.16 L448.5,285.54 L448.8,284.93 L449.0,284.31 L449.2,283.69 L449.5,283.07 L449.8,282.44 L450.0,281.82 L450.2,281.19 L450.5,280.56 L450.8,279.93 L451.0,279.30 L451.2,278.66 L451.5,278.03 L451.8,277.39 L452.0,276.76 L452.2,276.12 L452.5,275.48 L452.8,274.84 L453.0,274.21 L453.2,273.57 L453.5,272.93 L453.8,272.29 L454.0,271.65 L454.2,271.01 L454.5,270.38 L454.8,269.74 L455.0,269.10 L455.2,268.47 L455.5,267.84 L455.8,267.20 L456.0,266.57 L456.2,265.95 L456.5,265.32 L456.8,264.69 L457.0,264.07 L457.2,263.45 L457.5,262.84 L457.8,262.22 L458.0,261.61 L458.2,261.00 L458.5,260.39 L458.8,259.79 L459.0,259.19 L459.2,258.60 L459.5,258.01 L459.8,257.42 L460.0,256.84 L460.2,256.26 L460.5,255.69 L460.8,255.12 L461.0,254.56 L461.2,254.00 L461.5,253.44 L461.8,252.90 L462.0,252.35 L462.2,251.82 L462.5,251.29 L462.8,250.76 L463.0,250.24 L463.2,249.73 L463.5,249.23 L463.8,248.73 L464.0,248.24 L464.2,247.75 L464.5,247.28 L464.8,246.81 L465.0,246.34 L465.2,245.89 L465.5,245.44 L465.8,245.00 L466.0,244.57 L466.2,244.15 L466.5,243.73 L466.8,243.33 L467.0,242.93 L467.2,242.54 L467.5,242.16 L467.8,241.79 L468.0,241.43 L468.2,241.08 L468.5,240.74 L468.8,240.40 L469.0,240.08 L469.2,239.77 L469.5,239.46 L469.8,239.17 L470.0,238.89 L470.2,238.61 L470.5,238.35 L470.8,238.10 L471.0,237.85 L471.2,237.62 L471.5,237.40 L471.8,237.19 L472.0,236.99 L472.2,236.80 L472.5,236.62 L472.8,236.45 L473.0,236.29 L473.2,236.15 L473.5,236.01 L473.8,235.89 L474.0,235.78 L474.2,235.68 L474.5,235.59 L474.8,235.51 L475.0,235.44 L475.2,235.39 L475.5,235.34 L475.8,235.31 L476.0,235.29 L476.2,235.28 L476.5,235.28 L476.8,235.29 L477.0,235.32 L477.2,235.37 L477.5,235.43 L477.8,235.50 L478.0,235.58 L478.2,235.69 L478.5,235.80 L478.8,235.93 L479.0,236.07 L479.2,236.23 L479.5,236.40 L479.8,236.58 L480.0,236.78 L480.2,236.99 L480.5,237.21 L480.8,237.45 L481.0,237.70 L481.2,237.97 L481.5,238.25 L481.8,238.54 L482.0,238.84 L482.2,239.16 L482.5,239.48 L482.8,239.82 L483.0,240.18 L483.2,240.54 L483.5,240.92 L483.8,241.31 L484.0,241.71 L484.2,242.12 L484.5,242.55 L484.8,242.98 L485.0,243.42 L485.2,243.88 L485.5,244.35 L485.8,244.82 L486.0,245.31 L486.2,245.81 L486.5,246.32 L486.8,246.83 L487.0,247.36 L487.2,247.89 L487.5,248.44 L487.8,248.99 L488.0,249.55 L488.2,250.12 L488.5,250.70 L488.8,251.28 L489.0,251.88 L489.2,252.48 L489.5,253.09 L489.8,253.70 L490.0,254.32 L490.2,254.95 L490.5,255.58 L490.8,256.22 L491.0,256.87 L491.2,257.52 L491.5,258.18 L491.8,258.84 L492.0,259.50 L492.2,260.17 L492.5,260.85 L492.8,261.53 L493.0,262.21 L493.2,262.90 L493.5,263.59 L493.8,264.28 L494.0,264.98 L494.2,265.68 L494.5,266.38 L494.8,267.08 L495.0,267.79 L495.2,268.50 L495.5,269.20 L495.8,269.91 L496.0,270.63 L496.2,271.34 L496.5,272.05 L496.8,272.76 L497.0,273.48 L497.2,274.19 L497.5,274.90 L497.8,275.62 L498.0,276.33 L498.2,277.04 L498.5,277.75 L498.8,278.46 L499.0,279.17 L499.2,279.88 L499.5,280.58 L499.8,281.28 L500.0,281.98 L500.2,282.68 L500.5,283.38 L500.8,284.07 L501.0,284.76 L501.2,285.45 L501.5,286.14 L501.8,286.82 L502.0,287.49 L502.2,288.17 L502.5,288.84 L502.8,289.51 L503.0,290.17 L503.2,290.83 L503.5,291.48 L503.8,292.13 L504.0,292.78 L504.2,293.42 L504.5,294.06 L504.8,294.69 L505.0,295.32 L505.2,295.94 L505.5,296.55 L505.8,297.17 L506.0,297.77 L506.2,298.37 L506.5,298.97 L506.8,299.56 L507.0,300.14 L507.2,300.72 L507.5,301.29 L507.8,301.86 L508.0,302.42 L508.2,302.98 L508.5,303.53 L508.8,304.07 L509.0,304.61 L509.2,305.14 L509.5,305.66 L509.8,306.18 L510.0,306.69 L510.2,307.20 L510.5,307.70 L510.8,308.19 L511.0,308.68 L511.2,309.16 L511.5,309.64 L511.8,310.11 L512.0,310.57 L512.2,311.03 L512.5,311.47 L512.8,311.92 L513.0,312.35 L513.2,312.79 L513.5,313.21 L513.8,313.63 L514.0,314.04 L514.2,314.44 L514.5,314.84 L514.8,315.24 L515.0,315.62 L515.2,316.00 L515.5,316.38 L515.8,316.75 L516.0,317.11 L516.2,317.46 L516.5,317.81 L516.8,318.16 L517.0,318.50 L517.2,318.83 L517.5,319.15 L517.8,319.47 L518.0,319.79 L518.2,320.10 L518.5,320.40 L518.8,320.70 L519.0,320.99 L519.2,321.28 L519.5,321.56 L519.8,321.84 L520.0,322.11 L520.2,322.37 L520.5,322.63 L520.8,322.89 L521.0,323.13 L521.2,323.38 L521.5,323.62 L521.8,323.85 L522.0,324.08 L522.2,324.31 L522.5,324.53 L522.8,324.74 L523.0,324.95 L523.2,325.16 L523.5,325.36 L523.8,325.56 L524.0,325.75 L524.2,325.94 L524.5,326.13 L524.8,326.31 L525.0,326.48 L525.2,326.65 L525.5,326.82 L525.8,326.99 L526.0,327.15 L526.2,327.30 L526.5,327.45 L526.8,327.60 L527.0,327.75 L527.2,327.89 L527.5,328.03 L527.8,328.16 L528.0,328.30 L528.2,328.42 L528.5,328.55 L528.8,328.67 L529.0,328.79 L529.2,328.91 L529.5,329.02 L529.8,329.13 L530.0,329.24 L530.2,329.34 L530.5,329.44 L530.8,329.54 L531.0,329.64 L531.2,329.73 L531.5,329.82 L531.8,329.91 L532.0,329.99 L532.2,330.08 L532.5,330.16 L532.8,330.24 L533.0,330.31 L533.2,330.39 L533.5,330.46 L533.8,330.53 L534.0,330.60 L534.2,330.67 L534.5,330.73 L534.8,330.79 L535.0,330.85 L535.2,330.91 L535.5,330.97 L535.8,331.03 L536.0,331.08 L536.2,331.13 L536.5,331.18 L536.8,331.23 L537.0,331.28 L537.2,331.33 L537.5,331.37 L537.8,331.41 L538.0,331.46 L538.2,331.50 L538.5,331.54 L538.8,331.57 L539.0,331.61 L539.2,331.65 L539.5,331.68 L539.8,331.71 L540.0,331.75 L540.2,331.78 L540.5,331.81 L540.8,331.84 L541.0,331.86 L541.2,331.89 L541.5,331.92 L541.8,331.94 L542.0,331.97 L542.2,331.99 L542.5,332.02 L542.8,332.04 L543.0,332.06" fill="none" stroke="#cf2b2b" stroke-width="1.25"/>
<path d="M315.0,332.26 L315.2,332.25 L315.5,332.25 L315.8,332.25 L316.0,332.25 L316.2,332.25 L316.5,332.25 L316.8,332.24 L317.0,332.24 L317.2,332.24 L317.5,332.24 L317.8,332.24 L318.0,332.23 L318.2,332.23 L318.5,332.23 L318.8,332.23 L319.0,332.23 L319.2,332.22 L319.5,332.22 L319.8,332.22 L320.0,332.22 L320.2,332.22 L320.5,332.21 L320.8,332.21 L321.0,332.21 L321.2,332.21 L321.5,332.20 L321.8,332.20 L322.0,332.20 L322.2,332.20 L322.5,332.19 L322.8,332.19 L323.0,332.19 L323.2,332.19 L323.5,332.18 L323.8,332.18 L324.0,332.18 L324.2,332.18 L324.5,332.17 L324.8,332.17 L325.0,332.17 L325.2,332.16 L325.5,332.16 L325.8,332.16 L326.0,332.15 L326.2,332.15 L326.5,332.15 L326.8,332.14 L327.0,332.14 L327.2,332.14 L327.5,332.13 L327.8,332.13 L328.0,332.13 L328.2,332.12 L328.5,332.12 L328.8,332.11 L329.0,332.11 L329.2,332.10 L329.5,332.10 L329.8,332.10 L330.0,332.09 L330.2,332.09 L330.5,332.08 L330.8,332.08 L331.0,332.07 L331.2,332.07 L331.5,332.06 L331.8,332.05 L332.0,332.05 L332.2,332.04 L332.5,332.04 L332.8,332.03 L333.0,332.03 L333.2,332.02 L333.5,332.01 L333.8,332.01 L334.0,332.00 L334.2,331.99 L334.5,331.98 L334.8,331.98 L335.0,331.97 L335.2,331.96 L335.5,331.95 L335.8,331.94 L336.0,331.94 L336.2,331.93 L336.5,331.92 L336.8,331.91 L337.0,331.90 L337.2,331.89 L337.5,331.88 L337.8,331.87 L338.0,331.86 L338.2,331.85 L338.5,331.84 L338.8,331.83 L339.0,331.82 L339.2,331.80 L339.5,331.79 L339.8,331.78 L340.0,331.77 L340.2,331.75 L340.5,331.74 L340.8,331.72 L341.0,331.71 L341.2,331.70 L341.5,331.68 L341.8,331.66 L342.0,331.65 L342.2,331.63 L342.5,331.62 L342.8,331.60 L343.0,331.58 L343.2,331.56 L343.5,331.54 L343.8,331.52 L344.0,331.50 L344.2,331.48 L344.5,331.46 L344.8,331.44 L345.0,331.42 L345.2,331.40 L345.5,331.37 L345.8,331.35 L346.0,331.32 L346.2,331.30 L346.5,331.27 L346.8,331.25 L347.0,331.22 L347.2,331.19 L347.5,331.16 L347.8,331.13 L348.0,331.10 L348.2,331.07 L348.5,331.04 L348.8,331.01 L349.0,330.97 L349.2,330.94 L349.5,330.90 L349.8,330.86 L350.0,330.83 L350.2,330.79 L350.5,330.75 L350.8,330.71 L351.0,330.67 L351.2,330.63 L351.5,330.58 L351.8,330.54 L352.0,330.49 L352.2,330.44 L352.5,330.40 L352.8,330.35 L353.0,330.30 L353.2,330.24 L353.5,330.19 L353.8,330.14 L354.0,330.08 L354.2,330.02 L354.5,329.96 L354.8,329.90 L355.0,329.84 L355.2,329.78 L355.5,329.71 L355.8,329.65 L356.0,329.58 L356.2,329.51 L356.5,329.44 L356.8,329.36 L357.0,329.29 L357.2,329.21 L357.5,329.13 L357.8,329.05 L358.0,328.97 L358.2,328.89 L358.5,328.80 L358.8,328.71 L359.0,328.62 L359.2,328.53 L359.5,328.44 L359.8,328.34 L360.0,328.24 L360.2,328.14 L360.5,328.04 L360.8,327.93 L361.0,327.82 L361.2,327.71 L361.5,327.60 L361.8,327.49 L362.0,327.37 L362.2,327.25 L362.5,327.12 L362.8,327.00 L363.0,326.87 L363.2,326.74 L363.5,326.60 L363.8,326.47 L364.0,326.33 L364.2,326.19 L364.5,326.04 L364.8,325.89 L365.0,325.74 L365.2,325.58 L365.5,325.43 L365.8,325.26 L366.0,325.10 L366.2,324.93 L366.5,324.76 L366.8,324.58 L367.0,324.41 L367.2,324.22 L367.5,324.04 L367.8,323.85 L368.0,323.66 L368.2,323.46 L368.5,323.26 L368.8,323.05 L369.0,322.85 L369.2,322.63 L369.5,322.42 L369.8,322.20 L370.0,321.97 L370.2,321.74 L370.5,321.51 L370.8,321.27 L371.0,321.03 L371.2,320.79 L371.5,320.54 L371.8,320.28 L372.0,320.02 L372.2,319.76 L372.5,319.49 L372.8,319.22 L373.0,318.94 L373.2,318.66 L373.5,318.37 L373.8,318.08 L374.0,317.78 L374.2,317.48 L374.5,317.17 L374.8,316.86 L375.0,316.54 L375.2,316.22 L375.5,315.89 L375.8,315.56 L376.0,315.22 L376.2,314.88 L376.5,314.53 L376.8,314.17 L377.0,313.81 L377.2,313.45 L377.5,313.08 L377.8,312.70 L378.0,312.32 L378.2,311.93 L378.5,311.54 L378.8,311.14 L379.0,310.73 L379.2,310.32 L379.5,309.90 L379.8,309.48 L380.0,309.05 L380.2,308.62 L380.5,308.18 L380.8,307.73 L381.0,307.28 L381.2,306.82 L381.5,306.36 L381.8,305.88 L382.0,305.41 L382.2,304.92 L382.5,304.44 L382.8,303.94 L383.0,303.44 L383.2,302.93 L383.5,302.42 L383.8,301.90 L384.0,301.37 L384.2,300.84 L384.5,300.30 L384.8,299.75 L385.0,299.20 L385.2,298.64 L385.5,298.08 L385.8,297.51 L386.0,296.93 L386.2,296.35 L386.5,295.76 L386.8,295.16 L387.0,294.56 L387.2,293.96 L387.5,293.34 L387.8,292.72 L388.0,292.10 L388.2,291.46 L388.5,290.82 L388.8,290.18 L389.0,289.53 L389.2,288.87 L389.5,288.21 L389.8,287.54 L390.0,286.87 L390.2,286.19 L390.5,285.50 L390.8,284.81 L391.0,284.11 L391.2,283.41 L391.5,282.70 L391.8,281.99 L392.0,281.27 L392.2,280.54 L392.5,279.81 L392.8,279.07 L393.0,278.33 L393.2,277.59 L393.5,276.83 L393.8,276.08 L394.0,275.32 L394.2,274.55 L394.5,273.78 L394.8,273.00 L395.0,272.22 L395.2,271.44 L395.5,270.65 L395.8,269.86 L396.0,269.06 L396.2,268.26 L396.5,267.45 L396.8,266.64 L397.0,265.83 L397.2,265.01 L397.5,264.19 L397.8,263.36 L398.0,262.53 L398.2,261.70 L398.5,260.87 L398.8,260.03 L399.0,259.19 L399.2,258.35 L399.5,257.50 L399.8,256.66 L400.0,255.80 L400.2,254.95 L400.5,254.10 L400.8,253.24 L401.0,252.38 L401.2,251.52 L401.5,250.66 L401.8,249.80 L402.0,248.94 L402.2,248.07 L402.5,247.21 L402.8,246.34 L403.0,245.47 L403.2,244.61 L403.5,243.74 L403.8,242.87 L404.0,242.01 L404.2,241.14 L404.5,240.27 L404.8,239.41 L405.0,238.54 L405.2,237.68 L405.5,236.82 L405.8,235.96 L406.0,235.10 L406.2,234.24 L406.5,233.38 L406.8,232.53 L407.0,231.68 L407.2,230.83 L407.5,229.98 L407.8,229.14 L408.0,228.30 L408.2,227.46 L408.5,226.63 L408.8,225.80 L409.0,224.97 L409.2,224.15 L409.5,223.33 L409.8,222.52 L410.0,221.71 L410.2,220.91 L410.5,220.11 L410.8,219.32 L411.0,218.53 L411.2,217.75 L411.5,216.97 L411.8,216.20 L412.0,215.43 L412.2,214.68 L412.5,213.92 L412.8,213.18 L413.0,212.44 L413.2,211.71 L413.5,210.99 L413.8,210.27 L414.0,209.56 L414.2,208.86 L414.5,208.17 L414.8,207.49 L415.0,206.81 L415.2,206.15 L415.5,205.49 L415.8,204.84 L416.0,204.20 L416.2,203.57 L416.5,202.95 L416.8,202.34 L417.0,201.74 L417.2,201.15 L417.5,200.56 L417.8,199.99 L418.0,199.44 L418.2,198.89 L418.5,198.35 L418.8,197.82 L419.0,197.31 L419.2,196.80 L419.5,196.31 L419.8,195.83 L420.0,195.36 L420.2,194.90 L420.5,194.46 L420.8,194.02 L421.0,193.60 L421.2,193.19 L421.5,192.80 L421.8,192.42 L422.0,192.05 L422.2,191.69 L422.5,191.35 L422.8,191.02 L423.0,190.70 L423.2,190.39 L423.5,190.10 L423.8,189.83 L424.0,189.56 L424.2,189.31 L424.5,189.08 L424.8,188.86 L425.0,188.65 L425.2,188.46 L425.5,188.28 L425.8,188.11 L426.0,187.96 L426.2,187.82 L426.5,187.70 L426.8,187.59 L427.0,187.50 L427.2,187.42 L427.5,187.35 L427.8,187.30 L428.0,187.26 L428.2,187.24 L428.5,187.24 L428.8,187.24 L429.0,187.26 L429.2,187.30 L429.5,187.35 L429.8,187.41 L430.0,187.49 L430.2,187.58 L430.5,187.68 L430.8,187.80 L431.0,187.93 L431.2,188.07 L431.5,188.23 L431.8,188.41 L432.0,188.59 L432.2,188.79 L432.5,189.00 L432.8,189.23 L433.0,189.47 L433.2,189.72 L433.5,189.99 L433.8,190.27 L434.0,190.56 L434.2,190.86 L434.5,191.18 L434.8,191.51 L435.0,191.85 L435.2,192.21 L435.5,192.58 L435.8,192.96 L436.0,193.35 L436.2,193.75 L436.5,194.17 L436.8,194.60 L437.0,195.04 L437.2,195.49 L437.5,195.95 L437.8,196.43 L438.0,196.91 L438.2,197.41 L438.5,197.92 L438.8,198.43 L439.0,198.96 L439.2,199.50 L439.5,200.05 L439.8,200.61 L440.0,201.18 L440.2,201.76 L440.5,202.35 L440.8,202.95 L441.0,203.55 L441.2,204.17 L441.5,204.80 L441.8,205.43 L442.0,206.07 L442.2,206.73 L442.5,207.39 L442.8,208.05 L443.0,208.73 L443.2,209.42 L443.5,210.11 L443.8,210.81 L444.0,211.51 L444.2,212.23 L444.5,212.95 L444.8,213.68 L445.0,214.41 L445.2,215.15 L445.5,215.90 L445.8,216.65 L446.0,217.41 L446.2,218.17 L446.5,218.94 L446.8,219.72 L447.0,220.50 L447.2,221.28 L447.5,222.07 L447.8,222.86 L448.0,223.66 L448.2,224.46 L448.5,225.27 L448.8,226.08 L449.0,226.89 L449.2,227.71 L449.5,228.53 L449.8,229.36 L450.0,230.18 L450.2,231.01 L450.5,231.84 L450.8,232.68 L451.0,233.52 L451.2,234.35 L451.5,235.19 L451.8,236.04 L452.0,236.88 L452.2,237.72 L452.5,238.57 L452.8,239.42 L453.0,240.26 L453.2,241.11 L453.5,241.96 L453.8,242.81 L454.0,243.66 L454.2,244.51 L454.5,245.36 L454.8,246.21 L455.0,247.06 L455.2,247.90 L455.5,248.75 L455.8,249.60 L456.0,250.44 L456.2,251.29 L456.5,252.13 L456.8,252.97 L457.0,253.81 L457.2,254.65 L457.5,255.48 L457.8,256.32 L458.0,257.15 L458.2,257.98 L458.5,258.80 L458.8,259.63 L459.0,260.45 L459.2,261.27 L459.5,262.08 L459.8,262.90 L460.0,263.71 L460.2,264.51 L460.5,265.32 L460.8,266.11 L461.0,266.91 L461.2,267.70 L461.5,268.49 L461.8,269.28 L462.0,270.06 L462.2,270.83 L462.5,271.60 L462.8,272.37 L463.0,273.14 L463.2,273.90 L463.5,274.65 L463.8,275.40 L464.0,276.15 L464.2,276.89 L464.5,277.62 L464.8,278.35 L465.0,279.08 L465.2,279.80 L465.5,280.52 L465.8,281.23 L466.0,281.93 L466.2,282.63 L466.5,283.33 L466.8,284.02 L467.0,284.70 L467.2,285.38 L467.5,286.05 L467.8,286.72 L468.0,287.38 L468.2,288.04 L468.5,288.69 L468.8,289.33 L469.0,289.97 L469.2,290.60 L469.5,291.23 L469.8,291.85 L470.0,292.47 L470.2,293.08 L470.5,293.68 L470.8,294.28 L471.0,294.87 L471.2,295.46 L471.5,296.04 L471.8,296.61 L472.0,297.18 L472.2,297.74 L472.5,298.30 L472.8,298.85 L473.0,299.39 L473.2,299.93 L473.5,300.47 L473.8,300.99 L474.0,301.51 L474.2,302.03 L474.5,302.53 L474.8,303.04 L475.0,303.53 L475.2,304.02 L475.5,304.51 L475.8,304.99 L476.0,305.46 L476.2,305.92 L476.5,306.38 L476.8,306.84 L477.0,307.29 L477.2,307.73 L477.5,308.17 L477.8,308.60 L478.0,309.03 L478.2,309.45 L478.5,309.86 L478.8,310.27 L479.0,310.67 L479.2,311.07 L479.5,311.46 L479.8,311.85 L480.0,312.23 L480.2,312.61 L480.5,312.98 L480.8,313.34 L481.0,313.70 L481.2,314.06 L481.5,314.41 L481.8,314.75 L482.0,315.09 L482.2,315.42 L482.5,315.75 L482.8,316.07 L483.0,316.39 L483.2,316.70 L483.5,317.01 L483.8,317.32 L484.0,317.61 L484.2,317.91 L484.5,318.20 L484.8,318.48 L485.0,318.76 L485.2,319.04 L485.5,319.31 L485.8,319.57 L486.0,319.83 L486.2,320.09 L486.5,320.34 L486.8,320.59 L487.0,320.84 L487.2,321.08 L487.5,321.31 L487.8,321.54 L488.0,321.77 L488.2,322.00 L488.5,322.21 L488.8,322.43 L489.0,322.64 L489.2,322.85 L489.5,323.05 L489.8,323.25 L490.0,323.45 L490.2,323.64 L490.5,323.83 L490.8,324.02 L491.0,324.20 L491.2,324.38 L491.5,324.55 L491.8,324.73 L492.0,324.90 L492.2,325.06 L492.5,325.22 L492.8,325.38 L493.0,325.54 L493.2,325.69 L493.5,325.84 L493.8,325.99 L494.0,326.13 L494.2,326.27 L494.5,326.41 L494.8,326.55 L495.0,326.68 L495.2,326.81 L495.5,326.94 L495.8,327.06 L496.0,327.18 L496.2,327.30 L496.5,327.42 L496.8,327.53 L497.0,327.64 L497.2,327.75 L497.5,327.86 L497.8,327.97 L498.0,328.07 L498.2,328.17 L498.5,328.27 L498.8,328.36 L499.0,328.46 L499.2,328.55 L499.5,328.64 L499.8,328.73 L500.0,328.81 L500.2,328.90 L500.5,328.98 L500.8,329.06 L501.0,329.14 L501.2,329.22 L501.5,329.29 L501.8,329.36 L502.0,329.44 L502.2,329.51 L502.5,329.57 L502.8,329.64 L503.0,329.71 L503.2,329.77 L503.5,329.83 L503.8,329.89 L504.0,329.95 L504.2,330.01 L504.5,330.07 L504.8,330.12 L505.0,330.18 L505.2,330.23 L505.5,330.28 L505.8,330.33 L506.0,330.38 L506.2,330.43 L506.5,330.47 L506.8,330.52 L507.0,330.56 L507.2,330.61 L507.5,330.65 L507.8,330.69 L508.0,330.73 L508.2,330.77 L508.5,330.81 L508.8,330.84 L509.0,330.88 L509.2,330.91 L509.5,330.95 L509.8,330.98 L510.0,331.02 L510.2,331.05 L510.5,331.08 L510.8,331.11 L511.0,331.14 L511.2,331.17 L511.5,331.20 L511.8,331.22 L512.0,331.25 L512.2,331.28 L512.5,331.30 L512.8,331.33 L513.0,331.35 L513.2,331.37 L513.5,331.40 L513.8,331.42 L514.0,331.44 L514.2,331.46 L514.5,331.48 L514.8,331.50 L515.0,331.52 L515.2,331.54 L515.5,331.56 L515.8,331.58 L516.0,331.59 L516.2,331.61 L516.5,331.63 L516.8,331.64 L517.0,331.66 L517.2,331.68 L517.5,331.69 L517.8,331.71 L518.0,331.72 L518.2,331.73 L518.5,331.75 L518.8,331.76 L519.0,331.77 L519.2,331.79 L519.5,331.80 L519.8,331.81 L520.0,331.82 L520.2,331.83 L520.5,331.84 L520.8,331.85 L521.0,331.86 L521.2,331.87 L521.5,331.88 L521.8,331.89 L522.0,331.90 L522.2,331.91 L522.5,331.92 L522.8,331.93 L523.0,331.94 L523.2,331.95 L523.5,331.95 L523.8,331.96 L524.0,331.97 L524.2,331.98 L524.5,331.99 L524.8,331.99 L525.0,332.00 L525.2,332.01 L525.5,332.01 L525.8,332.02 L526.0,332.03 L526.2,332.03 L526.5,332.04 L526.8,332.04 L527.0,332.05 L527.2,332.05 L527.5,332.06 L527.8,332.06 L528.0,332.07 L528.2,332.08 L528.5,332.08 L528.8,332.08 L529.0,332.09 L529.2,332.09 L529.5,332.10 L529.8,332.10 L530.0,332.11 L530.2,332.11 L530.5,332.12 L530.8,332.12 L531.0,332.12 L531.2,332.13 L531.5,332.13 L531.8,332.13 L532.0,332.14 L532.2,332.14 L532.5,332.15 L532.8,332.15 L533.0,332.15 L533.2,332.16 L533.5,332.16 L533.8,332.16 L534.0,332.16 L534.2,332.17 L534.5,332.17 L534.8,332.17 L535.0,332.18 L535.2,332.18 L535.5,332.18 L535.8,332.18 L536.0,332.19 L536.2,332.19 L536.5,332.19 L536.8,332.19 L537.0,332.20 L537.2,332.20 L537.5,332.20 L537.8,332.20 L538.0,332.21 L538.2,332.21 L538.5,332.21 L538.8,332.21 L539.0,332.22 L539.2,332.22 L539.5,332.22 L539.8,332.22 L540.0,332.22 L540.2,332.23 L540.5,332.23 L540.8,332.23 L541.0,332.23 L541.2,332.23 L541.5,332.24 L541.8,332.24 L542.0,332.24 L542.2,332.24 L542.5,332.24 L542.8,332.24 L543.0,332.25" fill="none" stroke="#2c52c4" stroke-width="1.35"/>
<path d="M315.0,209.12 L315.2,209.11 L315.5,209.11 L315.8,209.10 L316.0,209.10 L316.2,209.10 L316.5,209.09 L316.8,209.09 L317.0,209.08 L317.2,209.07 L317.5,209.07 L317.8,209.06 L318.0,209.06 L318.2,209.05 L318.5,209.04 L318.8,209.03 L319.0,209.03 L319.2,209.02 L319.5,209.01 L319.8,209.00 L320.0,209.00 L320.2,208.99 L320.5,208.98 L320.8,208.97 L321.0,208.96 L321.2,208.95 L321.5,208.94 L321.8,208.93 L322.0,208.92 L322.2,208.91 L322.5,208.90 L322.8,208.89 L323.0,208.88 L323.2,208.86 L323.5,208.85 L323.8,208.84 L324.0,208.83 L324.2,208.82 L324.5,208.80 L324.8,208.79 L325.0,208.78 L325.2,208.77 L325.5,208.75 L325.8,208.74 L326.0,208.72 L326.2,208.71 L326.5,208.70 L326.8,208.68 L327.0,208.67 L327.2,208.65 L327.5,208.64 L327.8,208.62 L328.0,208.61 L328.2,208.59 L328.5,208.58 L328.8,208.56 L329.0,208.55 L329.2,208.53 L329.5,208.51 L329.8,208.50 L330.0,208.48 L330.2,208.46 L330.5,208.45 L330.8,208.43 L331.0,208.41 L331.2,208.39 L331.5,208.38 L331.8,208.36 L332.0,208.34 L332.2,208.32 L332.5,208.30 L332.8,208.28 L333.0,208.26 L333.2,208.25 L333.5,208.23 L333.8,208.21 L334.0,208.19 L334.2,208.17 L334.5,208.15 L334.8,208.13 L335.0,208.11 L335.2,208.08 L335.5,208.06 L335.8,208.04 L336.0,208.02 L336.2,208.00 L336.5,207.97 L336.8,207.95 L337.0,207.92 L337.2,207.90 L337.5,207.87 L337.8,207.85 L338.0,207.82 L338.2,207.79 L338.5,207.76 L338.8,207.74 L339.0,207.71 L339.2,207.68 L339.5,207.65 L339.8,207.62 L340.0,207.58 L340.2,207.55 L340.5,207.52 L340.8,207.49 L341.0,207.45 L341.2,207.42 L341.5,207.38 L341.8,207.35 L342.0,207.31 L342.2,207.27 L342.5,207.23 L342.8,207.19 L343.0,207.15 L343.2,207.11 L343.5,207.07 L343.8,207.03 L344.0,206.99 L344.2,206.95 L344.5,206.90 L344.8,206.86 L345.0,206.81 L345.2,206.76 L345.5,206.72 L345.8,206.67 L346.0,206.62 L346.2,206.57 L346.5,206.52 L346.8,206.47 L347.0,206.41 L347.2,206.36 L347.5,206.30 L347.8,206.25 L348.0,206.19 L348.2,206.13 L348.5,206.07 L348.8,206.01 L349.0,205.95 L349.2,205.89 L349.5,205.83 L349.8,205.76 L350.0,205.70 L350.2,205.63 L350.5,205.56 L350.8,205.48 L351.0,205.40 L351.2,205.32 L351.5,205.23 L351.8,205.14 L352.0,205.05 L352.2,204.95 L352.5,204.85 L352.8,204.75 L353.0,204.64 L353.2,204.54 L353.5,204.43 L353.8,204.31 L354.0,204.20 L354.2,204.08 L354.5,203.97 L354.8,203.85 L355.0,203.73 L355.2,203.60 L355.5,203.48 L355.8,203.35 L356.0,203.23 L356.2,203.10 L356.5,202.97 L356.8,202.85 L357.0,202.72 L357.2,202.59 L357.5,202.46 L357.8,202.33 L358.0,202.20 L358.2,202.07 L358.5,201.94 L358.8,201.82 L359.0,201.69 L359.2,201.56 L359.5,201.44 L359.8,201.31 L360.0,201.19 L360.2,201.07 L360.5,200.95 L360.8,200.83 L361.0,200.71 L361.2,200.60 L361.5,200.48 L361.8,200.37 L362.0,200.26 L362.2,200.15 L362.5,200.04 L362.8,199.93 L363.0,199.81 L363.2,199.69 L363.5,199.57 L363.8,199.45 L364.0,199.32 L364.2,199.19 L364.5,199.06 L364.8,198.92 L365.0,198.79 L365.2,198.65 L365.5,198.50 L365.8,198.36 L366.0,198.21 L366.2,198.05 L366.5,197.90 L366.8,197.74 L367.0,197.58 L367.2,197.42 L367.5,197.25 L367.8,197.08 L368.0,196.90 L368.2,196.72 L368.5,196.54 L368.8,196.36 L369.0,196.17 L369.2,195.98 L369.5,195.78 L369.8,195.59 L370.0,195.38 L370.2,195.18 L370.5,194.97 L370.8,194.76 L371.0,194.54 L371.2,194.32 L371.5,194.10 L371.8,193.88 L372.0,193.66 L372.2,193.44 L372.5,193.22 L372.8,193.00 L373.0,192.77 L373.2,192.55 L373.5,192.32 L373.8,192.09 L374.0,191.86 L374.2,191.62 L374.5,191.38 L374.8,191.14 L375.0,190.90 L375.2,190.65 L375.5,190.40 L375.8,190.14 L376.0,189.88 L376.2,189.62 L376.5,189.35 L376.8,189.07 L377.0,188.79 L377.2,188.51 L377.5,188.22 L377.8,187.92 L378.0,187.62 L378.2,187.31 L378.5,186.99 L378.8,186.67 L379.0,186.34 L379.2,186.00 L379.5,185.66 L379.8,185.30 L380.0,184.94 L380.2,184.58 L380.5,184.20 L380.8,183.83 L381.0,183.45 L381.2,183.06 L381.5,182.67 L381.8,182.27 L382.0,181.86 L382.2,181.46 L382.5,181.04 L382.8,180.62 L383.0,180.20 L383.2,179.77 L383.5,179.33 L383.8,178.89 L384.0,178.44 L384.2,177.99 L384.5,177.53 L384.8,177.06 L385.0,176.59 L385.2,176.12 L385.5,175.64 L385.8,175.15 L386.0,174.65 L386.2,174.15 L386.5,173.65 L386.8,173.13 L387.0,172.62 L387.2,172.09 L387.5,171.56 L387.8,171.02 L388.0,170.48 L388.2,169.93 L388.5,169.38 L388.8,168.82 L389.0,168.26 L389.2,167.69 L389.5,167.12 L389.8,166.55 L390.0,165.96 L390.2,165.38 L390.5,164.79 L390.8,164.19 L391.0,163.59 L391.2,162.99 L391.5,162.38 L391.8,161.77 L392.0,161.16 L392.2,160.54 L392.5,159.91 L392.8,159.28 L393.0,158.65 L393.2,158.02 L393.5,157.38 L393.8,156.74 L394.0,156.09 L394.2,155.44 L394.5,154.79 L394.8,154.13 L395.0,153.47 L395.2,152.81 L395.5,152.14 L395.8,151.47 L396.0,150.80 L396.2,150.13 L396.5,149.45 L396.8,148.77 L397.0,148.09 L397.2,147.41 L397.5,146.72 L397.8,146.03 L398.0,145.34 L398.2,144.65 L398.5,143.96 L398.8,143.26 L399.0,142.56 L399.2,141.87 L399.5,141.17 L399.8,140.47 L400.0,139.77 L400.2,139.06 L400.5,138.36 L400.8,137.66 L401.0,136.96 L401.2,136.25 L401.5,135.55 L401.8,134.84 L402.0,134.14 L402.2,133.44 L402.5,132.73 L402.8,132.03 L403.0,131.33 L403.2,130.63 L403.5,129.93 L403.8,129.23 L404.0,128.53 L404.2,127.84 L404.5,127.14 L404.8,126.45 L405.0,125.76 L405.2,125.07 L405.5,124.39 L405.8,123.70 L406.0,123.02 L406.2,122.34 L406.5,121.67 L406.8,121.00 L407.0,120.33 L407.2,119.66 L407.5,119.00 L407.8,118.34 L408.0,117.69 L408.2,117.04 L408.5,116.39 L408.8,115.75 L409.0,115.11 L409.2,114.48 L409.5,113.85 L409.8,113.23 L410.0,112.61 L410.2,112.00 L410.5,111.39 L410.8,110.79 L411.0,110.20 L411.2,109.61 L411.5,109.02 L411.8,108.45 L412.0,107.88 L412.2,107.31 L412.5,106.75 L412.8,106.20 L413.0,105.66 L413.2,105.12 L413.5,104.59 L413.8,104.07 L414.0,103.56 L414.2,103.05 L414.5,102.55 L414.8,102.06 L415.0,101.58 L415.2,101.11 L415.5,100.64 L415.8,100.18 L416.0,99.74 L416.2,99.30 L416.5,98.86 L416.8,98.44 L417.0,98.03 L417.2,97.63 L417.5,97.23 L417.8,96.85 L418.0,96.47 L418.2,96.11 L418.5,95.75 L418.8,95.40 L419.0,95.07 L419.2,94.74 L419.5,94.43 L419.8,94.12 L420.0,93.83 L420.2,93.54 L420.5,93.27 L420.8,93.00 L421.0,92.75 L421.2,92.51 L421.5,92.27 L421.8,92.05 L422.0,91.84 L422.2,91.64 L422.5,91.45 L422.8,91.28 L423.0,91.11 L423.2,90.95 L423.5,90.81 L423.8,90.67 L424.0,90.55 L424.2,90.44 L424.5,90.34 L424.8,90.25 L425.0,90.17 L425.2,90.10 L425.5,90.05 L425.8,90.00 L426.0,89.97 L426.2,89.94 L426.5,89.93 L426.8,89.93 L427.0,89.94 L427.2,89.96 L427.5,89.99 L427.8,90.04 L428.0,90.09 L428.2,90.16 L428.5,90.23 L428.8,90.32 L429.0,90.41 L429.2,90.52 L429.5,90.63 L429.8,90.76 L430.0,90.89 L430.2,91.04 L430.5,91.19 L430.8,91.35 L431.0,91.53 L431.2,91.71 L431.5,91.90 L431.8,92.10 L432.0,92.31 L432.2,92.53 L432.5,92.76 L432.8,92.99 L433.0,93.24 L433.2,93.49 L433.5,93.75 L433.8,94.02 L434.0,94.30 L434.2,94.59 L434.5,94.88 L434.8,95.18 L435.0,95.49 L435.2,95.81 L435.5,96.13 L435.8,96.46 L436.0,96.80 L436.2,97.15 L436.5,97.50 L436.8,97.86 L437.0,98.23 L437.2,98.60 L437.5,98.98 L437.8,99.36 L438.0,99.75 L438.2,100.15 L438.5,100.55 L438.8,100.96 L439.0,101.37 L439.2,101.79 L439.5,102.21 L439.8,102.64 L440.0,103.08 L440.2,103.51 L440.5,103.96 L440.8,104.40 L441.0,104.86 L441.2,105.31 L441.5,105.77 L441.8,106.24 L442.0,106.71 L442.2,107.18 L442.5,107.65 L442.8,108.13 L443.0,108.61 L443.2,109.10 L443.5,109.59 L443.8,110.08 L444.0,110.57 L444.2,111.07 L444.5,111.56 L444.8,112.07 L445.0,112.57 L445.2,113.08 L445.5,113.58 L445.8,114.09 L446.0,114.61 L446.2,115.12 L446.5,115.63 L446.8,116.15 L447.0,116.67 L447.2,117.19 L447.5,117.71 L447.8,118.23 L448.0,118.76 L448.2,119.28 L448.5,119.80 L448.8,120.33 L449.0,120.86 L449.2,121.39 L449.5,121.91 L449.8,122.44 L450.0,122.97 L450.2,123.50 L450.5,124.03 L450.8,124.56 L451.0,125.10 L451.2,125.63 L451.5,126.16 L451.8,126.69 L452.0,127.22 L452.2,127.76 L452.5,128.29 L452.8,128.82 L453.0,129.35 L453.2,129.89 L453.5,130.42 L453.8,130.95 L454.0,131.49 L454.2,132.02 L454.5,132.55 L454.8,133.08 L455.0,133.62 L455.2,134.15 L455.5,134.68 L455.8,135.22 L456.0,135.75 L456.2,136.28 L456.5,136.81 L456.8,137.35 L457.0,137.88 L457.2,138.41 L457.5,138.95 L457.8,139.48 L458.0,140.02 L458.2,140.55 L458.5,141.09 L458.8,141.62 L459.0,142.16 L459.2,142.69 L459.5,143.23 L459.8,143.77 L460.0,144.30 L460.2,144.84 L460.5,145.38 L460.8,145.92 L461.0,146.46 L461.2,147.00 L461.5,147.55 L461.8,148.09 L462.0,148.64 L462.2,149.18 L462.5,149.73 L462.8,150.28 L463.0,150.83 L463.2,151.38 L463.5,151.93 L463.8,152.49 L464.0,153.04 L464.2,153.60 L464.5,154.16 L464.8,154.72 L465.0,155.29 L465.2,155.85 L465.5,156.42 L465.8,156.99 L466.0,157.56 L466.2,158.14 L466.5,158.71 L466.8,159.29 L467.0,159.88 L467.2,160.46 L467.5,161.05 L467.8,161.64 L468.0,162.23 L468.2,162.83 L468.5,163.43 L468.8,164.03 L469.0,164.64 L469.2,165.25 L469.5,165.86 L469.8,166.48 L470.0,167.10 L470.2,167.72 L470.5,168.35 L470.8,168.98 L471.0,169.61 L471.2,170.25 L471.5,170.89 L471.8,171.54 L472.0,172.19 L472.2,172.84 L472.5,173.50 L472.8,174.16 L473.0,174.83 L473.2,175.50 L473.5,176.17 L473.8,176.85 L474.0,177.53 L474.2,178.22 L474.5,178.91 L474.8,179.61 L475.0,180.31 L475.2,181.01 L475.5,181.72 L475.8,182.44 L476.0,183.15 L476.2,183.88 L476.5,184.61 L476.8,185.34 L477.0,186.08 L477.2,186.83 L477.5,187.59 L477.8,188.36 L478.0,189.13 L478.2,189.91 L478.5,190.69 L478.8,191.49 L479.0,192.29 L479.2,193.10 L479.5,193.91 L479.8,194.73 L480.0,195.56 L480.2,196.40 L480.5,197.24 L480.8,198.09 L481.0,198.95 L481.2,199.81 L481.5,200.68 L481.8,201.55 L482.0,202.44 L482.2,203.32 L482.5,204.22 L482.8,205.12 L483.0,206.02 L483.2,206.93 L483.5,207.85 L483.8,208.77 L484.0,209.70 L484.2,210.63 L484.5,211.57 L484.8,212.52 L485.0,213.46 L485.2,214.41 L485.5,215.37 L485.8,216.33 L486.0,217.30 L486.2,218.27 L486.5,219.24 L486.8,220.21 L487.0,221.19 L487.2,222.18 L487.5,223.16 L487.8,224.15 L488.0,225.14 L488.2,226.14 L488.5,227.14 L488.8,228.13 L489.0,229.13 L489.2,230.14 L489.5,231.14 L489.8,232.15 L490.0,233.15 L490.2,234.16 L490.5,235.17 L490.8,236.18 L491.0,237.19 L491.2,238.20 L491.5,239.21 L491.8,240.22 L492.0,241.23 L492.2,242.24 L492.5,243.25 L492.8,244.26 L493.0,245.26 L493.2,246.27 L493.5,247.27 L493.8,248.28 L494.0,249.28 L494.2,250.28 L494.5,251.27 L494.8,252.27 L495.0,253.26 L495.2,254.25 L495.5,255.23 L495.8,256.22 L496.0,257.20 L496.2,258.17 L496.5,259.14 L496.8,260.11 L497.0,261.08 L497.2,262.04 L497.5,262.99 L497.8,263.95 L498.0,264.89 L498.2,265.84 L498.5,266.77 L498.8,267.71 L499.0,268.63 L499.2,269.55 L499.5,270.47 L499.8,271.38 L500.0,272.29 L500.2,273.19 L500.5,274.08 L500.8,274.97 L501.0,275.85 L501.2,276.72 L501.5,277.59 L501.8,278.45 L502.0,279.31 L502.2,280.15 L502.5,280.99 L502.8,281.83 L503.0,282.66 L503.2,283.47 L503.5,284.29 L503.8,285.09 L504.0,285.89 L504.2,286.68 L504.5,287.46 L504.8,288.24 L505.0,289.01 L505.2,289.76 L505.5,290.52 L505.8,291.26 L506.0,292.00 L506.2,292.72 L506.5,293.44 L506.8,294.16 L507.0,294.86 L507.2,295.56 L507.5,296.24 L507.8,296.92 L508.0,297.59 L508.2,298.26 L508.5,298.91 L508.8,299.56 L509.0,300.20 L509.2,300.83 L509.5,301.45 L509.8,302.06 L510.0,302.67 L510.2,303.27 L510.5,303.86 L510.8,304.44 L511.0,305.01 L511.2,305.57 L511.5,306.13 L511.8,306.68 L512.0,307.22 L512.2,307.75 L512.5,308.27 L512.8,308.79 L513.0,309.30 L513.2,309.80 L513.5,310.29 L513.8,310.77 L514.0,311.25 L514.2,311.72 L514.5,312.18 L514.8,312.63 L515.0,313.08 L515.2,313.52 L515.5,313.95 L515.8,314.37 L516.0,314.79 L516.2,315.20 L516.5,315.60 L516.8,315.99 L517.0,316.38 L517.2,316.76 L517.5,317.13 L517.8,317.50 L518.0,317.86 L518.2,318.21 L518.5,318.55 L518.8,318.89 L519.0,319.22 L519.2,319.55 L519.5,319.87 L519.8,320.18 L520.0,320.49 L520.2,320.79 L520.5,321.08 L520.8,321.37 L521.0,321.66 L521.2,321.93 L521.5,322.20 L521.8,322.47 L522.0,322.73 L522.2,322.98 L522.5,323.23 L522.8,323.47 L523.0,323.71 L523.2,323.94 L523.5,324.17 L523.8,324.39 L524.0,324.61 L524.2,324.82 L524.5,325.03 L524.8,325.23 L525.0,325.43 L525.2,325.62 L525.5,325.81 L525.8,325.99 L526.0,326.17 L526.2,326.35 L526.5,326.52 L526.8,326.69 L527.0,326.85 L527.2,327.01 L527.5,327.16 L527.8,327.31 L528.0,327.46 L528.2,327.61 L528.5,327.75 L528.8,327.88 L529.0,328.01 L529.2,328.14 L529.5,328.27 L529.8,328.39 L530.0,328.51 L530.2,328.63 L530.5,328.74 L530.8,328.85 L531.0,328.96 L531.2,329.07 L531.5,329.17 L531.8,329.27 L532.0,329.36 L532.2,329.46 L532.5,329.55 L532.8,329.64 L533.0,329.72 L533.2,329.81 L533.5,329.89 L533.8,329.97 L534.0,330.04 L534.2,330.12 L534.5,330.19 L534.8,330.26 L535.0,330.33 L535.2,330.40 L535.5,330.46 L535.8,330.52 L536.0,330.58 L536.2,330.64 L536.5,330.70 L536.8,330.76 L537.0,330.81 L537.2,330.86 L537.5,330.91 L537.8,330.96 L538.0,331.01 L538.2,331.06 L538.5,331.10 L538.8,331.14 L539.0,331.19 L539.2,331.23 L539.5,331.27 L539.8,331.30 L540.0,331.34 L540.2,331.38 L540.5,331.41 L540.8,331.45 L541.0,331.48 L541.2,331.51 L541.5,331.54 L541.8,331.57 L542.0,331.60 L542.2,331.63 L542.5,331.65 L542.8,331.68 L543.0,331.70" fill="none" stroke="#1e8a1e" stroke-width="2.4"/>
</svg>
<div class="t" style="left:100px;top:27.2px;font-size:24px;word-spacing:1.5px">Cr 2<i style="font-size:27px">p</i></div>
<div class="t" style="left:163px;top:17px;font-size:16.5px">1/2</div>
<div class="t" style="left:378px;top:43.5px;font-size:24px;word-spacing:1.5px">Cr 2<i style="font-size:27px">p</i></div>
<div class="t" style="left:440px;top:35px;font-size:16.5px">3/2</div>
<svg style="position:absolute;left:0;top:0" width="611" height="430"><rect x="73.8" y="256" width="84" height="66" fill="#fff" stroke="#444" stroke-width="1.6"/><path d="M157.8,256.5 V322 H73.5" fill="none" stroke="#111" stroke-width="2.8"/></svg>
<div class="t" style="left:77px;top:260px;font-size:17.5px;line-height:19.5px">Cr 2<i>p</i><br><i>T</i> = 300 K<br>Mg <i>K&alpha;</i></div>
<div class="t" style="left:347px;top:271px;font-size:20px;font-weight:bold">Cr1</div>
<div class="t" style="left:428px;top:325px;font-size:20px;font-weight:bold">Cr2</div>
<div class="t" style="left:33.5px;top:385px;font-size:18px;transform:translateX(-50%)">595</div>
<div class="t" style="left:146px;top:385px;font-size:18px;transform:translateX(-50%)">590</div>
<div class="t" style="left:258.5px;top:385px;font-size:18px;transform:translateX(-50%)">585</div>
<div class="t" style="left:371px;top:385px;font-size:18px;transform:translateX(-50%)">580</div>
<div class="t" style="left:483.5px;top:385px;font-size:18px;transform:translateX(-50%)">575</div>
<div class="t" style="left:596px;top:385px;font-size:18px;transform:translateX(-50%)">570</div>
<div class="t" style="left:315px;top:407px;font-size:20px;transform:translateX(-50%)">Binding energy (eV)</div>
<div class="t" style="left:8.7px;top:193px;font-size:20.4px;transform:translate(-50%,-50%) rotate(-90deg)">Intensity (arb. units)</div>
</div></body></html>
